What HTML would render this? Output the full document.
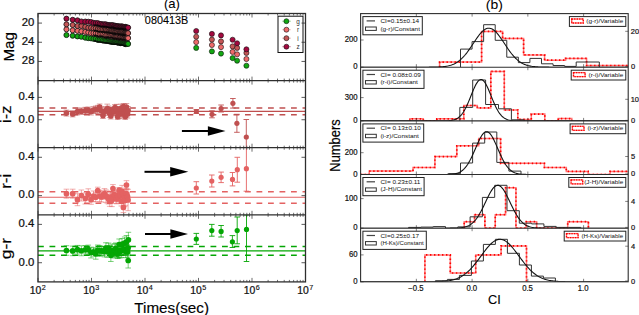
<!DOCTYPE html><html><head><meta charset="utf-8"><style>html,body{margin:0;padding:0;background:#fff;width:639px;height:315px;overflow:hidden}svg{display:block}text{font-family:"Liberation Sans",sans-serif}</style></head><body>
<svg width="639" height="315" viewBox="0 0 639 315">
<rect width="639" height="315" fill="#fff"/>
<defs>
<clipPath id="ca0"><rect x="38.0" y="13.5" width="267.5" height="67.1"/></clipPath>
<clipPath id="ca1"><rect x="38.0" y="80.6" width="267.5" height="67.1"/></clipPath>
<clipPath id="ca2"><rect x="38.0" y="147.7" width="267.5" height="67.10000000000002"/></clipPath>
<clipPath id="ca3"><rect x="38.0" y="214.8" width="267.5" height="67.09999999999997"/></clipPath>
</defs>
<g clip-path="url(#ca0)">
<circle cx="66.43" cy="35.05" r="2.55" fill="#12a812" stroke="#111" stroke-width="0.8"/>
<circle cx="72.69" cy="35.72" r="2.55" fill="#12a812" stroke="#111" stroke-width="0.8"/>
<circle cx="77.48" cy="36.4" r="2.55" fill="#12a812" stroke="#111" stroke-width="0.8"/>
<circle cx="81.38" cy="36.72" r="2.55" fill="#12a812" stroke="#111" stroke-width="0.8"/>
<circle cx="85.31" cy="37.64" r="2.55" fill="#12a812" stroke="#111" stroke-width="0.8"/>
<circle cx="88.29" cy="38.14" r="2.55" fill="#12a812" stroke="#111" stroke-width="0.8"/>
<circle cx="91.03" cy="38.38" r="2.55" fill="#12a812" stroke="#111" stroke-width="0.8"/>
<circle cx="93.5" cy="38.77" r="2.55" fill="#12a812" stroke="#111" stroke-width="0.8"/>
<circle cx="95.74" cy="38.85" r="2.55" fill="#12a812" stroke="#111" stroke-width="0.8"/>
<circle cx="97.77" cy="39.74" r="2.55" fill="#12a812" stroke="#111" stroke-width="0.8"/>
<circle cx="99.65" cy="39.81" r="2.55" fill="#12a812" stroke="#111" stroke-width="0.8"/>
<circle cx="101.38" cy="39.92" r="2.55" fill="#12a812" stroke="#111" stroke-width="0.8"/>
<circle cx="102.99" cy="40.36" r="2.55" fill="#12a812" stroke="#111" stroke-width="0.8"/>
<circle cx="104.5" cy="40.53" r="2.55" fill="#12a812" stroke="#111" stroke-width="0.8"/>
<circle cx="105.92" cy="40.69" r="2.55" fill="#12a812" stroke="#111" stroke-width="0.8"/>
<circle cx="107.25" cy="40.82" r="2.55" fill="#12a812" stroke="#111" stroke-width="0.8"/>
<circle cx="108.52" cy="41.06" r="2.55" fill="#12a812" stroke="#111" stroke-width="0.8"/>
<circle cx="109.71" cy="41.32" r="2.55" fill="#12a812" stroke="#111" stroke-width="0.8"/>
<circle cx="110.85" cy="41.56" r="2.55" fill="#12a812" stroke="#111" stroke-width="0.8"/>
<circle cx="111.94" cy="41.73" r="2.55" fill="#12a812" stroke="#111" stroke-width="0.8"/>
<circle cx="112.97" cy="41.79" r="2.55" fill="#12a812" stroke="#111" stroke-width="0.8"/>
<circle cx="113.97" cy="42.04" r="2.55" fill="#12a812" stroke="#111" stroke-width="0.8"/>
<circle cx="114.92" cy="41.96" r="2.55" fill="#12a812" stroke="#111" stroke-width="0.8"/>
<circle cx="115.83" cy="41.81" r="2.55" fill="#12a812" stroke="#111" stroke-width="0.8"/>
<circle cx="116.71" cy="41.96" r="2.55" fill="#12a812" stroke="#111" stroke-width="0.8"/>
<circle cx="117.56" cy="42.56" r="2.55" fill="#12a812" stroke="#111" stroke-width="0.8"/>
<circle cx="118.38" cy="42.17" r="2.55" fill="#12a812" stroke="#111" stroke-width="0.8"/>
<circle cx="119.17" cy="42.46" r="2.55" fill="#12a812" stroke="#111" stroke-width="0.8"/>
<circle cx="119.93" cy="42.74" r="2.55" fill="#12a812" stroke="#111" stroke-width="0.8"/>
<circle cx="120.67" cy="43.04" r="2.55" fill="#12a812" stroke="#111" stroke-width="0.8"/>
<circle cx="121.39" cy="42.53" r="2.55" fill="#12a812" stroke="#111" stroke-width="0.8"/>
<circle cx="122.09" cy="42.82" r="2.55" fill="#12a812" stroke="#111" stroke-width="0.8"/>
<circle cx="122.76" cy="42.99" r="2.55" fill="#12a812" stroke="#111" stroke-width="0.8"/>
<circle cx="123.42" cy="43.1" r="2.55" fill="#12a812" stroke="#111" stroke-width="0.8"/>
<circle cx="124.06" cy="43.34" r="2.55" fill="#12a812" stroke="#111" stroke-width="0.8"/>
<circle cx="124.68" cy="43.6" r="2.55" fill="#12a812" stroke="#111" stroke-width="0.8"/>
<circle cx="125.28" cy="43.65" r="2.55" fill="#12a812" stroke="#111" stroke-width="0.8"/>
<circle cx="125.87" cy="44.19" r="2.55" fill="#12a812" stroke="#111" stroke-width="0.8"/>
<circle cx="126.45" cy="44.02" r="2.55" fill="#12a812" stroke="#111" stroke-width="0.8"/>
<circle cx="127.01" cy="43.5" r="2.55" fill="#12a812" stroke="#111" stroke-width="0.8"/>
<circle cx="127.56" cy="43.55" r="2.55" fill="#12a812" stroke="#111" stroke-width="0.8"/>
<circle cx="128.09" cy="43.89" r="2.55" fill="#12a812" stroke="#111" stroke-width="0.8"/>
<path d="M93.5 40.97 L95.74 41.05 L97.77 41.94 L99.65 42.01 L101.38 42.12 L102.99 42.56 L104.5 42.73 L105.92 42.89 L107.25 43.02 L108.52 43.26 L109.71 43.52 L110.85 43.76 L111.94 43.93 L112.97 43.99 L113.97 44.24 L114.92 44.16 L115.83 44.01 L116.71 44.16 L117.56 44.76 L118.38 44.37 L119.17 44.66 L119.93 44.94 L120.67 45.24 L121.39 44.73 L122.09 45.02 L122.76 45.19 L123.42 45.3 L124.06 45.54 L124.68 45.8 L125.28 45.85 L125.87 46.39" fill="none" stroke="#000" stroke-width="1.7" opacity="0.75"/>
<circle cx="196.2" cy="47.9" r="2.55" fill="#12a812" stroke="#111" stroke-width="0.6"/>
<circle cx="211.9" cy="51.4" r="2.55" fill="#12a812" stroke="#111" stroke-width="0.6"/>
<circle cx="221" cy="53.6" r="2.55" fill="#12a812" stroke="#111" stroke-width="0.6"/>
<circle cx="232.6" cy="58.1" r="2.55" fill="#12a812" stroke="#111" stroke-width="0.6"/>
<circle cx="237.1" cy="60.7" r="2.55" fill="#12a812" stroke="#111" stroke-width="0.6"/>
<circle cx="246.4" cy="65.7" r="2.55" fill="#12a812" stroke="#111" stroke-width="0.6"/>
<circle cx="66.43" cy="29.32" r="2.55" fill="#ee6a6a" stroke="#111" stroke-width="0.8"/>
<circle cx="72.69" cy="30.3" r="2.55" fill="#ee6a6a" stroke="#111" stroke-width="0.8"/>
<circle cx="77.48" cy="30.82" r="2.55" fill="#ee6a6a" stroke="#111" stroke-width="0.8"/>
<circle cx="81.38" cy="31.33" r="2.55" fill="#ee6a6a" stroke="#111" stroke-width="0.8"/>
<circle cx="85.31" cy="31.94" r="2.55" fill="#ee6a6a" stroke="#111" stroke-width="0.8"/>
<circle cx="88.29" cy="32.37" r="2.55" fill="#ee6a6a" stroke="#111" stroke-width="0.8"/>
<circle cx="91.03" cy="33.14" r="2.55" fill="#ee6a6a" stroke="#111" stroke-width="0.8"/>
<circle cx="93.5" cy="33.16" r="2.55" fill="#ee6a6a" stroke="#111" stroke-width="0.8"/>
<circle cx="95.74" cy="33.5" r="2.55" fill="#ee6a6a" stroke="#111" stroke-width="0.8"/>
<circle cx="97.77" cy="33.88" r="2.55" fill="#ee6a6a" stroke="#111" stroke-width="0.8"/>
<circle cx="99.65" cy="34.3" r="2.55" fill="#ee6a6a" stroke="#111" stroke-width="0.8"/>
<circle cx="101.38" cy="33.96" r="2.55" fill="#ee6a6a" stroke="#111" stroke-width="0.8"/>
<circle cx="102.99" cy="34.51" r="2.55" fill="#ee6a6a" stroke="#111" stroke-width="0.8"/>
<circle cx="104.5" cy="34.85" r="2.55" fill="#ee6a6a" stroke="#111" stroke-width="0.8"/>
<circle cx="105.92" cy="35.4" r="2.55" fill="#ee6a6a" stroke="#111" stroke-width="0.8"/>
<circle cx="107.25" cy="35.11" r="2.55" fill="#ee6a6a" stroke="#111" stroke-width="0.8"/>
<circle cx="108.52" cy="35.25" r="2.55" fill="#ee6a6a" stroke="#111" stroke-width="0.8"/>
<circle cx="109.71" cy="35.54" r="2.55" fill="#ee6a6a" stroke="#111" stroke-width="0.8"/>
<circle cx="110.85" cy="35.69" r="2.55" fill="#ee6a6a" stroke="#111" stroke-width="0.8"/>
<circle cx="111.94" cy="35.31" r="2.55" fill="#ee6a6a" stroke="#111" stroke-width="0.8"/>
<circle cx="112.97" cy="35.93" r="2.55" fill="#ee6a6a" stroke="#111" stroke-width="0.8"/>
<circle cx="113.97" cy="36.31" r="2.55" fill="#ee6a6a" stroke="#111" stroke-width="0.8"/>
<circle cx="114.92" cy="36.49" r="2.55" fill="#ee6a6a" stroke="#111" stroke-width="0.8"/>
<circle cx="115.83" cy="36.15" r="2.55" fill="#ee6a6a" stroke="#111" stroke-width="0.8"/>
<circle cx="116.71" cy="36.77" r="2.55" fill="#ee6a6a" stroke="#111" stroke-width="0.8"/>
<circle cx="117.56" cy="36.51" r="2.55" fill="#ee6a6a" stroke="#111" stroke-width="0.8"/>
<circle cx="118.38" cy="36.82" r="2.55" fill="#ee6a6a" stroke="#111" stroke-width="0.8"/>
<circle cx="119.17" cy="37.36" r="2.55" fill="#ee6a6a" stroke="#111" stroke-width="0.8"/>
<circle cx="119.93" cy="37.13" r="2.55" fill="#ee6a6a" stroke="#111" stroke-width="0.8"/>
<circle cx="120.67" cy="36.72" r="2.55" fill="#ee6a6a" stroke="#111" stroke-width="0.8"/>
<circle cx="121.39" cy="37.11" r="2.55" fill="#ee6a6a" stroke="#111" stroke-width="0.8"/>
<circle cx="122.09" cy="37.44" r="2.55" fill="#ee6a6a" stroke="#111" stroke-width="0.8"/>
<circle cx="122.76" cy="37.84" r="2.55" fill="#ee6a6a" stroke="#111" stroke-width="0.8"/>
<circle cx="123.42" cy="37.41" r="2.55" fill="#ee6a6a" stroke="#111" stroke-width="0.8"/>
<circle cx="124.06" cy="37.64" r="2.55" fill="#ee6a6a" stroke="#111" stroke-width="0.8"/>
<circle cx="124.68" cy="37.71" r="2.55" fill="#ee6a6a" stroke="#111" stroke-width="0.8"/>
<circle cx="125.28" cy="37.95" r="2.55" fill="#ee6a6a" stroke="#111" stroke-width="0.8"/>
<circle cx="125.87" cy="38.05" r="2.55" fill="#ee6a6a" stroke="#111" stroke-width="0.8"/>
<circle cx="126.45" cy="37.92" r="2.55" fill="#ee6a6a" stroke="#111" stroke-width="0.8"/>
<circle cx="127.01" cy="38.12" r="2.55" fill="#ee6a6a" stroke="#111" stroke-width="0.8"/>
<circle cx="127.56" cy="37.57" r="2.55" fill="#ee6a6a" stroke="#111" stroke-width="0.8"/>
<circle cx="128.09" cy="38.09" r="2.55" fill="#ee6a6a" stroke="#111" stroke-width="0.8"/>
<path d="M93.5 35.36 L95.74 35.7 L97.77 36.08 L99.65 36.5 L101.38 36.16 L102.99 36.71 L104.5 37.05 L105.92 37.6 L107.25 37.31 L108.52 37.45 L109.71 37.74 L110.85 37.89 L111.94 37.51 L112.97 38.13 L113.97 38.51 L114.92 38.69 L115.83 38.35 L116.71 38.97 L117.56 38.71 L118.38 39.02 L119.17 39.56 L119.93 39.33 L120.67 38.92 L121.39 39.31 L122.09 39.64 L122.76 40.04 L123.42 39.61 L124.06 39.84 L124.68 39.91 L125.28 40.15 L125.87 40.25" fill="none" stroke="#000" stroke-width="1.7" opacity="0.75"/>
<circle cx="196.2" cy="42.1" r="2.55" fill="#ee6a6a" stroke="#111" stroke-width="0.6"/>
<circle cx="211.9" cy="45" r="2.55" fill="#ee6a6a" stroke="#111" stroke-width="0.6"/>
<circle cx="221" cy="47.1" r="2.55" fill="#ee6a6a" stroke="#111" stroke-width="0.6"/>
<circle cx="232.6" cy="51.9" r="2.55" fill="#ee6a6a" stroke="#111" stroke-width="0.6"/>
<circle cx="237.1" cy="54.3" r="2.55" fill="#ee6a6a" stroke="#111" stroke-width="0.6"/>
<circle cx="246.4" cy="59" r="2.55" fill="#ee6a6a" stroke="#111" stroke-width="0.6"/>
<circle cx="66.43" cy="24.32" r="2.55" fill="#c45656" stroke="#111" stroke-width="0.8"/>
<circle cx="72.69" cy="25" r="2.55" fill="#c45656" stroke="#111" stroke-width="0.8"/>
<circle cx="77.48" cy="25.97" r="2.55" fill="#c45656" stroke="#111" stroke-width="0.8"/>
<circle cx="81.38" cy="25.95" r="2.55" fill="#c45656" stroke="#111" stroke-width="0.8"/>
<circle cx="85.31" cy="26.88" r="2.55" fill="#c45656" stroke="#111" stroke-width="0.8"/>
<circle cx="88.29" cy="27.77" r="2.55" fill="#c45656" stroke="#111" stroke-width="0.8"/>
<circle cx="91.03" cy="27.81" r="2.55" fill="#c45656" stroke="#111" stroke-width="0.8"/>
<circle cx="93.5" cy="28.34" r="2.55" fill="#c45656" stroke="#111" stroke-width="0.8"/>
<circle cx="95.74" cy="28.38" r="2.55" fill="#c45656" stroke="#111" stroke-width="0.8"/>
<circle cx="97.77" cy="29.15" r="2.55" fill="#c45656" stroke="#111" stroke-width="0.8"/>
<circle cx="99.65" cy="29.33" r="2.55" fill="#c45656" stroke="#111" stroke-width="0.8"/>
<circle cx="101.38" cy="29.65" r="2.55" fill="#c45656" stroke="#111" stroke-width="0.8"/>
<circle cx="102.99" cy="29.59" r="2.55" fill="#c45656" stroke="#111" stroke-width="0.8"/>
<circle cx="104.5" cy="29.98" r="2.55" fill="#c45656" stroke="#111" stroke-width="0.8"/>
<circle cx="105.92" cy="29.92" r="2.55" fill="#c45656" stroke="#111" stroke-width="0.8"/>
<circle cx="107.25" cy="30.38" r="2.55" fill="#c45656" stroke="#111" stroke-width="0.8"/>
<circle cx="108.52" cy="30.08" r="2.55" fill="#c45656" stroke="#111" stroke-width="0.8"/>
<circle cx="109.71" cy="30.76" r="2.55" fill="#c45656" stroke="#111" stroke-width="0.8"/>
<circle cx="110.85" cy="30.96" r="2.55" fill="#c45656" stroke="#111" stroke-width="0.8"/>
<circle cx="111.94" cy="30.93" r="2.55" fill="#c45656" stroke="#111" stroke-width="0.8"/>
<circle cx="112.97" cy="31.43" r="2.55" fill="#c45656" stroke="#111" stroke-width="0.8"/>
<circle cx="113.97" cy="31.28" r="2.55" fill="#c45656" stroke="#111" stroke-width="0.8"/>
<circle cx="114.92" cy="31.8" r="2.55" fill="#c45656" stroke="#111" stroke-width="0.8"/>
<circle cx="115.83" cy="31.49" r="2.55" fill="#c45656" stroke="#111" stroke-width="0.8"/>
<circle cx="116.71" cy="31.56" r="2.55" fill="#c45656" stroke="#111" stroke-width="0.8"/>
<circle cx="117.56" cy="31.81" r="2.55" fill="#c45656" stroke="#111" stroke-width="0.8"/>
<circle cx="118.38" cy="32.64" r="2.55" fill="#c45656" stroke="#111" stroke-width="0.8"/>
<circle cx="119.17" cy="31.76" r="2.55" fill="#c45656" stroke="#111" stroke-width="0.8"/>
<circle cx="119.93" cy="32.12" r="2.55" fill="#c45656" stroke="#111" stroke-width="0.8"/>
<circle cx="120.67" cy="32.23" r="2.55" fill="#c45656" stroke="#111" stroke-width="0.8"/>
<circle cx="121.39" cy="32.56" r="2.55" fill="#c45656" stroke="#111" stroke-width="0.8"/>
<circle cx="122.09" cy="32.21" r="2.55" fill="#c45656" stroke="#111" stroke-width="0.8"/>
<circle cx="122.76" cy="33.01" r="2.55" fill="#c45656" stroke="#111" stroke-width="0.8"/>
<circle cx="123.42" cy="32.34" r="2.55" fill="#c45656" stroke="#111" stroke-width="0.8"/>
<circle cx="124.06" cy="33.13" r="2.55" fill="#c45656" stroke="#111" stroke-width="0.8"/>
<circle cx="124.68" cy="32.85" r="2.55" fill="#c45656" stroke="#111" stroke-width="0.8"/>
<circle cx="125.28" cy="32.8" r="2.55" fill="#c45656" stroke="#111" stroke-width="0.8"/>
<circle cx="125.87" cy="33.23" r="2.55" fill="#c45656" stroke="#111" stroke-width="0.8"/>
<circle cx="126.45" cy="32.83" r="2.55" fill="#c45656" stroke="#111" stroke-width="0.8"/>
<circle cx="127.01" cy="33.24" r="2.55" fill="#c45656" stroke="#111" stroke-width="0.8"/>
<circle cx="127.56" cy="33.07" r="2.55" fill="#c45656" stroke="#111" stroke-width="0.8"/>
<circle cx="128.09" cy="33.15" r="2.55" fill="#c45656" stroke="#111" stroke-width="0.8"/>
<path d="M93.5 30.54 L95.74 30.58 L97.77 31.35 L99.65 31.53 L101.38 31.85 L102.99 31.79 L104.5 32.18 L105.92 32.12 L107.25 32.58 L108.52 32.28 L109.71 32.96 L110.85 33.16 L111.94 33.13 L112.97 33.63 L113.97 33.48 L114.92 34 L115.83 33.69 L116.71 33.76 L117.56 34.01 L118.38 34.84 L119.17 33.96 L119.93 34.32 L120.67 34.43 L121.39 34.76 L122.09 34.41 L122.76 35.21 L123.42 34.54 L124.06 35.33 L124.68 35.05 L125.28 35 L125.87 35.43" fill="none" stroke="#000" stroke-width="1.7" opacity="0.75"/>
<circle cx="196.2" cy="36.7" r="2.55" fill="#c45656" stroke="#111" stroke-width="0.6"/>
<circle cx="211.9" cy="39.6" r="2.55" fill="#c45656" stroke="#111" stroke-width="0.6"/>
<circle cx="221" cy="41.4" r="2.55" fill="#c45656" stroke="#111" stroke-width="0.6"/>
<circle cx="232.6" cy="46.4" r="2.55" fill="#c45656" stroke="#111" stroke-width="0.6"/>
<circle cx="237.1" cy="47.9" r="2.55" fill="#c45656" stroke="#111" stroke-width="0.6"/>
<circle cx="246.4" cy="52.9" r="2.55" fill="#c45656" stroke="#111" stroke-width="0.6"/>
<circle cx="66.43" cy="18.65" r="2.55" fill="#a3093f" stroke="#111" stroke-width="0.8"/>
<circle cx="72.69" cy="19.8" r="2.55" fill="#a3093f" stroke="#111" stroke-width="0.8"/>
<circle cx="77.48" cy="20.35" r="2.55" fill="#a3093f" stroke="#111" stroke-width="0.8"/>
<circle cx="81.38" cy="21.5" r="2.55" fill="#a3093f" stroke="#111" stroke-width="0.8"/>
<circle cx="85.31" cy="21.58" r="2.55" fill="#a3093f" stroke="#111" stroke-width="0.8"/>
<circle cx="88.29" cy="21.71" r="2.55" fill="#a3093f" stroke="#111" stroke-width="0.8"/>
<circle cx="91.03" cy="22.07" r="2.55" fill="#a3093f" stroke="#111" stroke-width="0.8"/>
<circle cx="93.5" cy="22.89" r="2.55" fill="#a3093f" stroke="#111" stroke-width="0.8"/>
<circle cx="95.74" cy="23.09" r="2.55" fill="#a3093f" stroke="#111" stroke-width="0.8"/>
<circle cx="97.77" cy="23.14" r="2.55" fill="#a3093f" stroke="#111" stroke-width="0.8"/>
<circle cx="99.65" cy="23.85" r="2.55" fill="#a3093f" stroke="#111" stroke-width="0.8"/>
<circle cx="101.38" cy="24.06" r="2.55" fill="#a3093f" stroke="#111" stroke-width="0.8"/>
<circle cx="102.99" cy="24.41" r="2.55" fill="#a3093f" stroke="#111" stroke-width="0.8"/>
<circle cx="104.5" cy="24.33" r="2.55" fill="#a3093f" stroke="#111" stroke-width="0.8"/>
<circle cx="105.92" cy="24.37" r="2.55" fill="#a3093f" stroke="#111" stroke-width="0.8"/>
<circle cx="107.25" cy="24.96" r="2.55" fill="#a3093f" stroke="#111" stroke-width="0.8"/>
<circle cx="108.52" cy="25.06" r="2.55" fill="#a3093f" stroke="#111" stroke-width="0.8"/>
<circle cx="109.71" cy="25.26" r="2.55" fill="#a3093f" stroke="#111" stroke-width="0.8"/>
<circle cx="110.85" cy="25.32" r="2.55" fill="#a3093f" stroke="#111" stroke-width="0.8"/>
<circle cx="111.94" cy="25.22" r="2.55" fill="#a3093f" stroke="#111" stroke-width="0.8"/>
<circle cx="112.97" cy="25.18" r="2.55" fill="#a3093f" stroke="#111" stroke-width="0.8"/>
<circle cx="113.97" cy="26.08" r="2.55" fill="#a3093f" stroke="#111" stroke-width="0.8"/>
<circle cx="114.92" cy="25.65" r="2.55" fill="#a3093f" stroke="#111" stroke-width="0.8"/>
<circle cx="115.83" cy="25.97" r="2.55" fill="#a3093f" stroke="#111" stroke-width="0.8"/>
<circle cx="116.71" cy="26.36" r="2.55" fill="#a3093f" stroke="#111" stroke-width="0.8"/>
<circle cx="117.56" cy="26.38" r="2.55" fill="#a3093f" stroke="#111" stroke-width="0.8"/>
<circle cx="118.38" cy="26.2" r="2.55" fill="#a3093f" stroke="#111" stroke-width="0.8"/>
<circle cx="119.17" cy="26.48" r="2.55" fill="#a3093f" stroke="#111" stroke-width="0.8"/>
<circle cx="119.93" cy="26.84" r="2.55" fill="#a3093f" stroke="#111" stroke-width="0.8"/>
<circle cx="120.67" cy="26.57" r="2.55" fill="#a3093f" stroke="#111" stroke-width="0.8"/>
<circle cx="121.39" cy="26.41" r="2.55" fill="#a3093f" stroke="#111" stroke-width="0.8"/>
<circle cx="122.09" cy="26.79" r="2.55" fill="#a3093f" stroke="#111" stroke-width="0.8"/>
<circle cx="122.76" cy="26.55" r="2.55" fill="#a3093f" stroke="#111" stroke-width="0.8"/>
<circle cx="123.42" cy="27.42" r="2.55" fill="#a3093f" stroke="#111" stroke-width="0.8"/>
<circle cx="124.06" cy="27.1" r="2.55" fill="#a3093f" stroke="#111" stroke-width="0.8"/>
<circle cx="124.68" cy="27.08" r="2.55" fill="#a3093f" stroke="#111" stroke-width="0.8"/>
<circle cx="125.28" cy="26.85" r="2.55" fill="#a3093f" stroke="#111" stroke-width="0.8"/>
<circle cx="125.87" cy="27.58" r="2.55" fill="#a3093f" stroke="#111" stroke-width="0.8"/>
<circle cx="126.45" cy="27.49" r="2.55" fill="#a3093f" stroke="#111" stroke-width="0.8"/>
<circle cx="127.01" cy="27.58" r="2.55" fill="#a3093f" stroke="#111" stroke-width="0.8"/>
<circle cx="127.56" cy="27.8" r="2.55" fill="#a3093f" stroke="#111" stroke-width="0.8"/>
<circle cx="128.09" cy="27.59" r="2.55" fill="#a3093f" stroke="#111" stroke-width="0.8"/>
<path d="M93.5 25.09 L95.74 25.29 L97.77 25.34 L99.65 26.05 L101.38 26.26 L102.99 26.61 L104.5 26.53 L105.92 26.57 L107.25 27.16 L108.52 27.26 L109.71 27.46 L110.85 27.52 L111.94 27.42 L112.97 27.38 L113.97 28.28 L114.92 27.85 L115.83 28.17 L116.71 28.56 L117.56 28.58 L118.38 28.4 L119.17 28.68 L119.93 29.04 L120.67 28.77 L121.39 28.61 L122.09 28.99 L122.76 28.75 L123.42 29.62 L124.06 29.3 L124.68 29.28 L125.28 29.05 L125.87 29.78" fill="none" stroke="#000" stroke-width="1.7" opacity="0.75"/>
<circle cx="196.2" cy="31" r="2.55" fill="#a3093f" stroke="#111" stroke-width="0.6"/>
<circle cx="211.9" cy="33.9" r="2.55" fill="#a3093f" stroke="#111" stroke-width="0.6"/>
<circle cx="221" cy="35.4" r="2.55" fill="#a3093f" stroke="#111" stroke-width="0.6"/>
<circle cx="232.6" cy="39.7" r="2.55" fill="#a3093f" stroke="#111" stroke-width="0.6"/>
<circle cx="237.1" cy="43.3" r="2.55" fill="#a3093f" stroke="#111" stroke-width="0.6"/>
<circle cx="246.4" cy="49.3" r="2.55" fill="#a3093f" stroke="#111" stroke-width="0.6"/>
</g>
<rect x="278" y="16.2" width="25" height="36.3" fill="#fff" stroke="#111" stroke-width="1"/>
<line x1="282" y1="21.2" x2="291" y2="21.2" stroke="#12a812" stroke-width="0.7" opacity="0.5"/>
<circle cx="286.4" cy="21.2" r="2.5" fill="#12a812" stroke="#111" stroke-width="0.6"/>
<text x="298" y="23.6" font-size="6.4" text-anchor="middle" fill="#333" >g</text>
<line x1="282" y1="29.7" x2="291" y2="29.7" stroke="#ee6a6a" stroke-width="0.7" opacity="0.5"/>
<circle cx="286.4" cy="29.7" r="2.5" fill="#ee6a6a" stroke="#111" stroke-width="0.6"/>
<text x="298" y="32.1" font-size="6.4" text-anchor="middle" fill="#333" >r</text>
<line x1="282" y1="38.2" x2="291" y2="38.2" stroke="#c45656" stroke-width="0.7" opacity="0.5"/>
<circle cx="286.4" cy="38.2" r="2.5" fill="#c45656" stroke="#111" stroke-width="0.6"/>
<text x="298" y="40.6" font-size="6.4" text-anchor="middle" fill="#333" >i</text>
<line x1="282" y1="46.7" x2="291" y2="46.7" stroke="#a3093f" stroke-width="0.7" opacity="0.5"/>
<circle cx="286.4" cy="46.7" r="2.5" fill="#a3093f" stroke="#111" stroke-width="0.6"/>
<text x="298" y="49.1" font-size="6.4" text-anchor="middle" fill="#333" >z</text>
<text transform="translate(144.87 23.59) scale(0.9999 1)" font-size="10.845" fill="#000" stroke="#000" stroke-width="0.12">080413B</text>
<g clip-path="url(#ca1)">
<line x1="38" y1="111.4" x2="305.5" y2="111.4" stroke="#c05050" stroke-width="1.1" />
<line x1="38" y1="108" x2="305.5" y2="108" stroke="#c05050" stroke-width="1.5" stroke-dasharray="5.8 5.7"/>
<line x1="38" y1="114.8" x2="305.5" y2="114.8" stroke="#c05050" stroke-width="1.5" stroke-dasharray="5.8 5.7"/>
<path d="M66.43 110.1V116.1M63.63 110.1H69.23M63.63 116.1H69.23" stroke="#c05050" stroke-width="0.7" fill="none" opacity="0.75"/>
<path d="M72.69 110.9V116.9M69.89 110.9H75.49M69.89 116.9H75.49" stroke="#c05050" stroke-width="0.7" fill="none" opacity="0.75"/>
<path d="M77.48 108.3V114.9M74.68 108.3H80.28M74.68 114.9H80.28" stroke="#c05050" stroke-width="0.7" fill="none" opacity="0.75"/>
<path d="M81.38 107.9V114.5M78.58 107.9H84.18M78.58 114.5H84.18" stroke="#c05050" stroke-width="0.7" fill="none" opacity="0.75"/>
<path d="M85.31 107.3V114.3M82.51 107.3H88.11M82.51 114.3H88.11" stroke="#c05050" stroke-width="0.7" fill="none" opacity="0.75"/>
<path d="M88.29 107V114M85.49 107H91.09M85.49 114H91.09" stroke="#c05050" stroke-width="0.7" fill="none" opacity="0.75"/>
<path d="M91.03 108V115M88.23 108H93.83M88.23 115H93.83" stroke="#c05050" stroke-width="0.7" fill="none" opacity="0.75"/>
<path d="M93.5 106.5V113.5M90.7 106.5H96.3M90.7 113.5H96.3" stroke="#c05050" stroke-width="0.7" fill="none" opacity="0.75"/>
<path d="M95.74 106V113M92.94 106H98.54M92.94 113H98.54" stroke="#c05050" stroke-width="0.7" fill="none" opacity="0.75"/>
<path d="M97.77 105.38V113.5M94.97 105.38H100.57M94.97 113.5H100.57" stroke="#c05050" stroke-width="0.7" fill="none" opacity="0.75"/>
<path d="M99.65 104V110M96.85 104H102.45M96.85 110H102.45" stroke="#c05050" stroke-width="0.7" fill="none" opacity="0.75"/>
<path d="M101.38 106.84V114.72M98.58 106.84H104.18M98.58 114.72H104.18" stroke="#c05050" stroke-width="0.7" fill="none" opacity="0.75"/>
<path d="M102.99 112.5V118.5M100.19 112.5H105.79M100.19 118.5H105.79" stroke="#c05050" stroke-width="0.7" fill="none" opacity="0.75"/>
<path d="M104.5 107.64V115.31M101.7 107.64H107.3M101.7 115.31H107.3" stroke="#c05050" stroke-width="0.7" fill="none" opacity="0.75"/>
<path d="M105.92 106.47V114.98M103.12 106.47H108.72M103.12 114.98H108.72" stroke="#c05050" stroke-width="0.7" fill="none" opacity="0.75"/>
<path d="M107.25 104.13V113.37M104.45 104.13H110.05M104.45 113.37H110.05" stroke="#c05050" stroke-width="0.7" fill="none" opacity="0.75"/>
<path d="M108.52 106V112M105.72 106H111.32M105.72 112H111.32" stroke="#c05050" stroke-width="0.7" fill="none" opacity="0.75"/>
<path d="M109.71 107.93V117.37M106.91 107.93H112.51M106.91 117.37H112.51" stroke="#c05050" stroke-width="0.7" fill="none" opacity="0.75"/>
<path d="M110.85 113V119M108.05 113H113.65M108.05 119H113.65" stroke="#c05050" stroke-width="0.7" fill="none" opacity="0.75"/>
<path d="M111.94 107.27V114.5M109.14 107.27H114.74M109.14 114.5H114.74" stroke="#c05050" stroke-width="0.7" fill="none" opacity="0.75"/>
<path d="M112.97 108.5V115.5M110.17 108.5H115.77M110.17 115.5H115.77" stroke="#c05050" stroke-width="0.7" fill="none" opacity="0.75"/>
<path d="M113.97 107.21V114.81M111.17 107.21H116.77M111.17 114.81H116.77" stroke="#c05050" stroke-width="0.7" fill="none" opacity="0.75"/>
<path d="M114.92 104.5V110.5M112.12 104.5H117.72M112.12 110.5H117.72" stroke="#c05050" stroke-width="0.7" fill="none" opacity="0.75"/>
<path d="M115.83 106.96V115.6M113.03 106.96H118.63M113.03 115.6H118.63" stroke="#c05050" stroke-width="0.7" fill="none" opacity="0.75"/>
<path d="M116.71 104.32V113.33M113.91 104.32H119.51M113.91 113.33H119.51" stroke="#c05050" stroke-width="0.7" fill="none" opacity="0.75"/>
<path d="M117.56 113.5V119.5M114.76 113.5H120.36M114.76 119.5H120.36" stroke="#c05050" stroke-width="0.7" fill="none" opacity="0.75"/>
<path d="M118.38 109.45V118.52M115.58 109.45H121.18M115.58 118.52H121.18" stroke="#c05050" stroke-width="0.7" fill="none" opacity="0.75"/>
<path d="M119.17 106.5V113.5M116.37 106.5H121.97M116.37 113.5H121.97" stroke="#c05050" stroke-width="0.7" fill="none" opacity="0.75"/>
<path d="M119.93 108.72V118.68M117.13 108.72H122.73M117.13 118.68H122.73" stroke="#c05050" stroke-width="0.7" fill="none" opacity="0.75"/>
<path d="M120.67 104.19V113.04M117.87 104.19H123.47M117.87 113.04H123.47" stroke="#c05050" stroke-width="0.7" fill="none" opacity="0.75"/>
<path d="M121.39 109V117M118.59 109H124.19M118.59 117H124.19" stroke="#c05050" stroke-width="0.7" fill="none" opacity="0.75"/>
<path d="M122.09 106V114.94M119.29 106H124.89M119.29 114.94H124.89" stroke="#c05050" stroke-width="0.7" fill="none" opacity="0.75"/>
<path d="M122.76 106.34V116.3M119.96 106.34H125.56M119.96 116.3H125.56" stroke="#c05050" stroke-width="0.7" fill="none" opacity="0.75"/>
<path d="M123.42 103.5V109.5M120.62 103.5H126.22M120.62 109.5H126.22" stroke="#c05050" stroke-width="0.7" fill="none" opacity="0.75"/>
<path d="M124.06 109.42V117.9M121.26 109.42H126.86M121.26 117.9H126.86" stroke="#c05050" stroke-width="0.7" fill="none" opacity="0.75"/>
<path d="M124.68 109.04V116.63M121.88 109.04H127.48M121.88 116.63H127.48" stroke="#c05050" stroke-width="0.7" fill="none" opacity="0.75"/>
<path d="M125.28 113.5V119.5M122.48 113.5H128.08M122.48 119.5H128.08" stroke="#c05050" stroke-width="0.7" fill="none" opacity="0.75"/>
<path d="M125.87 110.26V117.53M123.07 110.26H128.67M123.07 117.53H128.67" stroke="#c05050" stroke-width="0.7" fill="none" opacity="0.75"/>
<path d="M126.45 103.5V110.5M123.65 103.5H129.25M123.65 110.5H129.25" stroke="#c05050" stroke-width="0.7" fill="none" opacity="0.75"/>
<path d="M127.01 107.02V115.36M124.21 107.02H129.81M124.21 115.36H129.81" stroke="#c05050" stroke-width="0.7" fill="none" opacity="0.75"/>
<path d="M127.56 110V118M124.76 110H130.36M124.76 118H130.36" stroke="#c05050" stroke-width="0.7" fill="none" opacity="0.75"/>
<path d="M128.09 106.5V114.5M125.29 106.5H130.89M125.29 114.5H130.89" stroke="#c05050" stroke-width="0.7" fill="none" opacity="0.75"/>
<circle cx="66.43" cy="113.1" r="2.85" fill="#c05050"/>
<circle cx="72.69" cy="113.9" r="2.85" fill="#c05050"/>
<circle cx="77.48" cy="111.6" r="2.85" fill="#c05050"/>
<circle cx="81.38" cy="111.2" r="2.85" fill="#c05050"/>
<circle cx="85.31" cy="110.8" r="2.85" fill="#c05050"/>
<circle cx="88.29" cy="110.5" r="2.85" fill="#c05050"/>
<circle cx="91.03" cy="111.5" r="2.85" fill="#c05050"/>
<circle cx="93.5" cy="110" r="2.85" fill="#c05050"/>
<circle cx="95.74" cy="109.5" r="2.85" fill="#c05050"/>
<circle cx="97.77" cy="109.44" r="2.85" fill="#c05050"/>
<circle cx="99.65" cy="107" r="2.85" fill="#c05050"/>
<circle cx="101.38" cy="110.78" r="2.85" fill="#c05050"/>
<circle cx="102.99" cy="115.5" r="2.85" fill="#c05050"/>
<circle cx="104.5" cy="111.47" r="2.85" fill="#c05050"/>
<circle cx="105.92" cy="110.73" r="2.85" fill="#c05050"/>
<circle cx="107.25" cy="108.75" r="2.85" fill="#c05050"/>
<circle cx="108.52" cy="109" r="2.85" fill="#c05050"/>
<circle cx="109.71" cy="112.65" r="2.85" fill="#c05050"/>
<circle cx="110.85" cy="116" r="2.85" fill="#c05050"/>
<circle cx="111.94" cy="110.89" r="2.85" fill="#c05050"/>
<circle cx="112.97" cy="112" r="2.85" fill="#c05050"/>
<circle cx="113.97" cy="111.01" r="2.85" fill="#c05050"/>
<circle cx="114.92" cy="107.5" r="2.85" fill="#c05050"/>
<circle cx="115.83" cy="111.28" r="2.85" fill="#c05050"/>
<circle cx="116.71" cy="108.82" r="2.85" fill="#c05050"/>
<circle cx="117.56" cy="116.5" r="2.85" fill="#c05050"/>
<circle cx="118.38" cy="113.99" r="2.85" fill="#c05050"/>
<circle cx="119.17" cy="110" r="2.85" fill="#c05050"/>
<circle cx="119.93" cy="113.7" r="2.85" fill="#c05050"/>
<circle cx="120.67" cy="108.62" r="2.85" fill="#c05050"/>
<circle cx="121.39" cy="113" r="2.85" fill="#c05050"/>
<circle cx="122.09" cy="110.47" r="2.85" fill="#c05050"/>
<circle cx="122.76" cy="111.32" r="2.85" fill="#c05050"/>
<circle cx="123.42" cy="106.5" r="2.85" fill="#c05050"/>
<circle cx="124.06" cy="113.66" r="2.85" fill="#c05050"/>
<circle cx="124.68" cy="112.84" r="2.85" fill="#c05050"/>
<circle cx="125.28" cy="116.5" r="2.85" fill="#c05050"/>
<circle cx="125.87" cy="113.9" r="2.85" fill="#c05050"/>
<circle cx="126.45" cy="107" r="2.85" fill="#c05050"/>
<circle cx="127.01" cy="111.19" r="2.85" fill="#c05050"/>
<circle cx="127.56" cy="114" r="2.85" fill="#c05050"/>
<circle cx="128.09" cy="110.5" r="2.85" fill="#c05050"/>
<path d="M196.4 109.5V113.5M193.6 109.5H199.2M193.6 113.5H199.2" stroke="#c05050" stroke-width="0.9" fill="none"/>
<circle cx="196.4" cy="111.5" r="2.6" fill="#c05050"/>
<path d="M212 110.8V117.8M209.2 110.8H214.8M209.2 117.8H214.8" stroke="#c05050" stroke-width="0.9" fill="none"/>
<circle cx="212" cy="114.3" r="2.6" fill="#c05050"/>
<path d="M221.1 105V112M218.3 105H223.9M218.3 112H223.9" stroke="#c05050" stroke-width="0.9" fill="none"/>
<circle cx="221.1" cy="108.5" r="2.6" fill="#c05050"/>
<path d="M232.9 98.5V108.1M230.1 98.5H235.7M230.1 108.1H235.7" stroke="#c05050" stroke-width="0.9" fill="none"/>
<circle cx="232.9" cy="103.3" r="2.6" fill="#c05050"/>
<path d="M236.9 114.3V132.3M234.1 114.3H239.7M234.1 132.3H239.7" stroke="#c05050" stroke-width="0.9" fill="none"/>
<circle cx="236.9" cy="123.3" r="2.6" fill="#c05050"/>
<path d="M246.3 119.5V160M243.5 119.5H249.1M243.5 160H249.1" stroke="#c05050" stroke-width="0.9" fill="none"/>
<circle cx="246.3" cy="137" r="2.6" fill="#c05050"/>
</g>
<line x1="181.9" y1="131" x2="208.9" y2="131" stroke="#000" stroke-width="2" />
<path d="M207.9 126.3L225.5 131L207.9 135.7Z" fill="#000"/>
<g clip-path="url(#ca2)">
<line x1="38" y1="197.3" x2="305.5" y2="197.3" stroke="#e46262" stroke-width="1.1" />
<line x1="38" y1="191.8" x2="305.5" y2="191.8" stroke="#e46262" stroke-width="1.5" stroke-dasharray="5.8 5.7"/>
<line x1="38" y1="203.2" x2="305.5" y2="203.2" stroke="#e46262" stroke-width="1.5" stroke-dasharray="5.8 5.7"/>
<path d="M66.43 189.2V198.2M63.63 189.2H69.23M63.63 198.2H69.23" stroke="#e46262" stroke-width="0.7" fill="none" opacity="0.75"/>
<path d="M72.69 189.2V198.2M69.89 189.2H75.49M69.89 198.2H75.49" stroke="#e46262" stroke-width="0.7" fill="none" opacity="0.75"/>
<path d="M77.48 193.7V205.7M74.68 193.7H80.28M74.68 205.7H80.28" stroke="#e46262" stroke-width="0.7" fill="none" opacity="0.75"/>
<path d="M81.38 190V201M78.58 190H84.18M78.58 201H84.18" stroke="#e46262" stroke-width="0.7" fill="none" opacity="0.75"/>
<path d="M85.31 193V204M82.51 193H88.11M82.51 204H88.11" stroke="#e46262" stroke-width="0.7" fill="none" opacity="0.75"/>
<path d="M88.29 188.8V199.8M85.49 188.8H91.09M85.49 199.8H91.09" stroke="#e46262" stroke-width="0.7" fill="none" opacity="0.75"/>
<path d="M91.03 195.1V204.3M88.23 195.1H93.83M88.23 204.3H93.83" stroke="#e46262" stroke-width="0.7" fill="none" opacity="0.75"/>
<path d="M93.5 191.03V201.42M90.7 191.03H96.3M90.7 201.42H96.3" stroke="#e46262" stroke-width="0.7" fill="none" opacity="0.75"/>
<path d="M95.74 192.59V201.85M92.94 192.59H98.54M92.94 201.85H98.54" stroke="#e46262" stroke-width="0.7" fill="none" opacity="0.75"/>
<path d="M97.77 187.2V194.2M94.97 187.2H100.57M94.97 194.2H100.57" stroke="#e46262" stroke-width="0.7" fill="none" opacity="0.75"/>
<path d="M99.65 190.25V201.72M96.85 190.25H102.45M96.85 201.72H102.45" stroke="#e46262" stroke-width="0.7" fill="none" opacity="0.75"/>
<path d="M101.38 192V202M98.58 192H104.18M98.58 202H104.18" stroke="#e46262" stroke-width="0.7" fill="none" opacity="0.75"/>
<path d="M102.99 190.94V199.22M100.19 190.94H105.79M100.19 199.22H105.79" stroke="#e46262" stroke-width="0.7" fill="none" opacity="0.75"/>
<path d="M104.5 188.6V198.6M101.7 188.6H107.3M101.7 198.6H107.3" stroke="#e46262" stroke-width="0.7" fill="none" opacity="0.75"/>
<path d="M105.92 189.92V202.35M103.12 189.92H108.72M103.12 202.35H108.72" stroke="#e46262" stroke-width="0.7" fill="none" opacity="0.75"/>
<path d="M107.25 191.1V203.11M104.45 191.1H110.05M104.45 203.11H110.05" stroke="#e46262" stroke-width="0.7" fill="none" opacity="0.75"/>
<path d="M108.52 194V204M105.72 194H111.32M105.72 204H111.32" stroke="#e46262" stroke-width="0.7" fill="none" opacity="0.75"/>
<path d="M109.71 195.07V206.34M106.91 195.07H112.51M106.91 206.34H112.51" stroke="#e46262" stroke-width="0.7" fill="none" opacity="0.75"/>
<path d="M110.85 191.4V202.75M108.05 191.4H113.65M108.05 202.75H113.65" stroke="#e46262" stroke-width="0.7" fill="none" opacity="0.75"/>
<path d="M111.94 194.07V206.62M109.14 194.07H114.74M109.14 206.62H114.74" stroke="#e46262" stroke-width="0.7" fill="none" opacity="0.75"/>
<path d="M112.97 184.6V192.6M110.17 184.6H115.77M110.17 192.6H115.77" stroke="#e46262" stroke-width="0.7" fill="none" opacity="0.75"/>
<path d="M113.97 190.01V199.22M111.17 190.01H116.77M111.17 199.22H116.77" stroke="#e46262" stroke-width="0.7" fill="none" opacity="0.75"/>
<path d="M114.92 191.23V201.04M112.12 191.23H117.72M112.12 201.04H117.72" stroke="#e46262" stroke-width="0.7" fill="none" opacity="0.75"/>
<path d="M115.83 192.5V203.5M113.03 192.5H118.63M113.03 203.5H118.63" stroke="#e46262" stroke-width="0.7" fill="none" opacity="0.75"/>
<path d="M116.71 193.78V203.79M113.91 193.78H119.51M113.91 203.79H119.51" stroke="#e46262" stroke-width="0.7" fill="none" opacity="0.75"/>
<path d="M117.56 190.75V200.66M114.76 190.75H120.36M114.76 200.66H120.36" stroke="#e46262" stroke-width="0.7" fill="none" opacity="0.75"/>
<path d="M118.38 191.65V201.61M115.58 191.65H121.18M115.58 201.61H121.18" stroke="#e46262" stroke-width="0.7" fill="none" opacity="0.75"/>
<path d="M119.17 187.5V192.5M116.37 187.5H121.97M116.37 192.5H121.97" stroke="#e46262" stroke-width="0.7" fill="none" opacity="0.75"/>
<path d="M119.93 188.98V201.82M117.13 188.98H122.73M117.13 201.82H122.73" stroke="#e46262" stroke-width="0.7" fill="none" opacity="0.75"/>
<path d="M120.67 190.53V199.27M117.87 190.53H123.47M117.87 199.27H123.47" stroke="#e46262" stroke-width="0.7" fill="none" opacity="0.75"/>
<path d="M121.39 196V206M118.59 196H124.19M118.59 206H124.19" stroke="#e46262" stroke-width="0.7" fill="none" opacity="0.75"/>
<path d="M122.09 185.4V197.5M119.29 185.4H124.89M119.29 197.5H124.89" stroke="#e46262" stroke-width="0.7" fill="none" opacity="0.75"/>
<path d="M122.76 189.32V198.05M119.96 189.32H125.56M119.96 198.05H125.56" stroke="#e46262" stroke-width="0.7" fill="none" opacity="0.75"/>
<path d="M123.42 202.2V212.6M120.62 202.2H126.22M120.62 212.6H126.22" stroke="#e46262" stroke-width="0.7" fill="none" opacity="0.75"/>
<path d="M124.06 193.03V202.6M121.26 193.03H126.86M121.26 202.6H126.86" stroke="#e46262" stroke-width="0.7" fill="none" opacity="0.75"/>
<path d="M124.68 194.42V206.45M121.88 194.42H127.48M121.88 206.45H127.48" stroke="#e46262" stroke-width="0.7" fill="none" opacity="0.75"/>
<path d="M125.28 195.1V205.34M122.48 195.1H128.08M122.48 205.34H128.08" stroke="#e46262" stroke-width="0.7" fill="none" opacity="0.75"/>
<path d="M125.87 188.15V198.46M123.07 188.15H128.67M123.07 198.46H128.67" stroke="#e46262" stroke-width="0.7" fill="none" opacity="0.75"/>
<path d="M126.45 180.7V189.3M123.65 180.7H129.25M123.65 189.3H129.25" stroke="#e46262" stroke-width="0.7" fill="none" opacity="0.75"/>
<path d="M127.01 188.9V200.96M124.21 188.9H129.81M124.21 200.96H129.81" stroke="#e46262" stroke-width="0.7" fill="none" opacity="0.75"/>
<path d="M127.56 192.3V201.25M124.76 192.3H130.36M124.76 201.25H130.36" stroke="#e46262" stroke-width="0.7" fill="none" opacity="0.75"/>
<path d="M128.09 189.3V210.7M125.29 189.3H130.89M125.29 210.7H130.89" stroke="#e46262" stroke-width="0.7" fill="none" opacity="0.75"/>
<circle cx="66.43" cy="193.7" r="2.85" fill="#e46262"/>
<circle cx="72.69" cy="193.7" r="2.85" fill="#e46262"/>
<circle cx="77.48" cy="199.7" r="2.85" fill="#e46262"/>
<circle cx="81.38" cy="195.5" r="2.85" fill="#e46262"/>
<circle cx="85.31" cy="198.5" r="2.85" fill="#e46262"/>
<circle cx="88.29" cy="194.3" r="2.85" fill="#e46262"/>
<circle cx="91.03" cy="199.7" r="2.85" fill="#e46262"/>
<circle cx="93.5" cy="196.22" r="2.85" fill="#e46262"/>
<circle cx="95.74" cy="197.22" r="2.85" fill="#e46262"/>
<circle cx="97.77" cy="190.7" r="2.85" fill="#e46262"/>
<circle cx="99.65" cy="195.98" r="2.85" fill="#e46262"/>
<circle cx="101.38" cy="197" r="2.85" fill="#e46262"/>
<circle cx="102.99" cy="195.08" r="2.85" fill="#e46262"/>
<circle cx="104.5" cy="193.6" r="2.85" fill="#e46262"/>
<circle cx="105.92" cy="196.14" r="2.85" fill="#e46262"/>
<circle cx="107.25" cy="197.11" r="2.85" fill="#e46262"/>
<circle cx="108.52" cy="199" r="2.85" fill="#e46262"/>
<circle cx="109.71" cy="200.71" r="2.85" fill="#e46262"/>
<circle cx="110.85" cy="197.07" r="2.85" fill="#e46262"/>
<circle cx="111.94" cy="200.35" r="2.85" fill="#e46262"/>
<circle cx="112.97" cy="188.6" r="2.85" fill="#e46262"/>
<circle cx="113.97" cy="194.61" r="2.85" fill="#e46262"/>
<circle cx="114.92" cy="196.13" r="2.85" fill="#e46262"/>
<circle cx="115.83" cy="198" r="2.85" fill="#e46262"/>
<circle cx="116.71" cy="198.78" r="2.85" fill="#e46262"/>
<circle cx="117.56" cy="195.7" r="2.85" fill="#e46262"/>
<circle cx="118.38" cy="196.63" r="2.85" fill="#e46262"/>
<circle cx="119.17" cy="190" r="2.85" fill="#e46262"/>
<circle cx="119.93" cy="195.4" r="2.85" fill="#e46262"/>
<circle cx="120.67" cy="194.9" r="2.85" fill="#e46262"/>
<circle cx="121.39" cy="201" r="2.85" fill="#e46262"/>
<circle cx="122.09" cy="191.45" r="2.85" fill="#e46262"/>
<circle cx="122.76" cy="193.69" r="2.85" fill="#e46262"/>
<circle cx="123.42" cy="207.4" r="2.85" fill="#e46262"/>
<circle cx="124.06" cy="197.81" r="2.85" fill="#e46262"/>
<circle cx="124.68" cy="200.44" r="2.85" fill="#e46262"/>
<circle cx="125.28" cy="200.22" r="2.85" fill="#e46262"/>
<circle cx="125.87" cy="193.3" r="2.85" fill="#e46262"/>
<circle cx="126.45" cy="185" r="2.85" fill="#e46262"/>
<circle cx="127.01" cy="194.93" r="2.85" fill="#e46262"/>
<circle cx="127.56" cy="196.78" r="2.85" fill="#e46262"/>
<circle cx="128.09" cy="200" r="2.85" fill="#e46262"/>
<path d="M196.3 181.7V194M193.5 181.7H199.1M193.5 194H199.1" stroke="#e46262" stroke-width="0.9" fill="none"/>
<circle cx="196.3" cy="188" r="2.6" fill="#e46262"/>
<path d="M211.8 175V187M209 175H214.6M209 187H214.6" stroke="#e46262" stroke-width="0.9" fill="none"/>
<circle cx="211.8" cy="181.1" r="2.6" fill="#e46262"/>
<path d="M221.1 172.1V182.6M218.3 172.1H223.9M218.3 182.6H223.9" stroke="#e46262" stroke-width="0.9" fill="none"/>
<circle cx="221.1" cy="177.3" r="2.6" fill="#e46262"/>
<path d="M232.5 172.5V185.9M229.7 172.5H235.3M229.7 185.9H235.3" stroke="#e46262" stroke-width="0.9" fill="none"/>
<circle cx="232.5" cy="179.4" r="2.6" fill="#e46262"/>
<path d="M237.3 157.3V182.2M234.5 157.3H240.1M234.5 182.2H240.1" stroke="#e46262" stroke-width="0.9" fill="none"/>
<circle cx="237.3" cy="169.7" r="2.6" fill="#e46262"/>
<path d="M246.4 120V191.2M243.6 120H249.2M243.6 191.2H249.2" stroke="#e46262" stroke-width="0.9" fill="none"/>
<circle cx="246.4" cy="168.7" r="2.6" fill="#e46262"/>
</g>
<line x1="144.5" y1="171.8" x2="171.2" y2="171.8" stroke="#000" stroke-width="2" />
<path d="M170.2 167.1L188.3 171.8L170.2 176.5Z" fill="#000"/>
<g clip-path="url(#ca3)">
<line x1="38" y1="250.9" x2="305.5" y2="250.9" stroke="#04a604" stroke-width="1.1" />
<line x1="38" y1="246.4" x2="305.5" y2="246.4" stroke="#04a604" stroke-width="1.5" stroke-dasharray="5.8 5.7"/>
<line x1="38" y1="255.3" x2="305.5" y2="255.3" stroke="#04a604" stroke-width="1.5" stroke-dasharray="5.8 5.7"/>
<path d="M66.43 245.7V255.3M63.63 245.7H69.23M63.63 255.3H69.23" stroke="#04a604" stroke-width="0.7" fill="none" opacity="0.75"/>
<path d="M72.69 246.12V255.7M69.89 246.12H75.49M69.89 255.7H75.49" stroke="#04a604" stroke-width="0.7" fill="none" opacity="0.75"/>
<path d="M77.48 245.41V253.97M74.68 245.41H80.28M74.68 253.97H80.28" stroke="#04a604" stroke-width="0.7" fill="none" opacity="0.75"/>
<path d="M81.38 245.81V255.72M78.58 245.81H84.18M78.58 255.72H84.18" stroke="#04a604" stroke-width="0.7" fill="none" opacity="0.75"/>
<path d="M85.31 245.63V253.94M82.51 245.63H88.11M82.51 253.94H88.11" stroke="#04a604" stroke-width="0.7" fill="none" opacity="0.75"/>
<path d="M88.29 245.11V254.3M85.49 245.11H91.09M85.49 254.3H91.09" stroke="#04a604" stroke-width="0.7" fill="none" opacity="0.75"/>
<path d="M91.03 247.13V257.96M88.23 247.13H93.83M88.23 257.96H93.83" stroke="#04a604" stroke-width="0.7" fill="none" opacity="0.75"/>
<path d="M93.5 247.81V256.13M90.7 247.81H96.3M90.7 256.13H96.3" stroke="#04a604" stroke-width="0.7" fill="none" opacity="0.75"/>
<path d="M95.74 248.27V259.21M92.94 248.27H98.54M92.94 259.21H98.54" stroke="#04a604" stroke-width="0.7" fill="none" opacity="0.75"/>
<path d="M97.77 245.02V255.91M94.97 245.02H100.57M94.97 255.91H100.57" stroke="#04a604" stroke-width="0.7" fill="none" opacity="0.75"/>
<path d="M99.65 245.56V256.19M96.85 245.56H102.45M96.85 256.19H102.45" stroke="#04a604" stroke-width="0.7" fill="none" opacity="0.75"/>
<path d="M101.38 246.53V255.26M98.58 246.53H104.18M98.58 255.26H104.18" stroke="#04a604" stroke-width="0.7" fill="none" opacity="0.75"/>
<path d="M102.99 246.69V255.36M100.19 246.69H105.79M100.19 255.36H105.79" stroke="#04a604" stroke-width="0.7" fill="none" opacity="0.75"/>
<path d="M104.5 246.24V256.85M101.7 246.24H107.3M101.7 256.85H107.3" stroke="#04a604" stroke-width="0.7" fill="none" opacity="0.75"/>
<path d="M105.92 242.75V253.67M103.12 242.75H108.72M103.12 253.67H108.72" stroke="#04a604" stroke-width="0.7" fill="none" opacity="0.75"/>
<path d="M107.25 245.77V257.29M104.45 245.77H110.05M104.45 257.29H110.05" stroke="#04a604" stroke-width="0.7" fill="none" opacity="0.75"/>
<path d="M108.52 243.1V253.88M105.72 243.1H111.32M105.72 253.88H111.32" stroke="#04a604" stroke-width="0.7" fill="none" opacity="0.75"/>
<path d="M109.71 245.48V255.54M106.91 245.48H112.51M106.91 255.54H112.51" stroke="#04a604" stroke-width="0.7" fill="none" opacity="0.75"/>
<path d="M110.85 248.86V261.47M108.05 248.86H113.65M108.05 261.47H113.65" stroke="#04a604" stroke-width="0.7" fill="none" opacity="0.75"/>
<path d="M111.94 244.19V256.28M109.14 244.19H114.74M109.14 256.28H114.74" stroke="#04a604" stroke-width="0.7" fill="none" opacity="0.75"/>
<path d="M112.97 249V258M110.17 249H115.77M110.17 258H115.77" stroke="#04a604" stroke-width="0.7" fill="none" opacity="0.75"/>
<path d="M113.97 246.44V255.76M111.17 246.44H116.77M111.17 255.76H116.77" stroke="#04a604" stroke-width="0.7" fill="none" opacity="0.75"/>
<path d="M114.92 243.73V256.61M112.12 243.73H117.72M112.12 256.61H117.72" stroke="#04a604" stroke-width="0.7" fill="none" opacity="0.75"/>
<path d="M115.83 242.94V253.79M113.03 242.94H118.63M113.03 253.79H118.63" stroke="#04a604" stroke-width="0.7" fill="none" opacity="0.75"/>
<path d="M116.71 248.19V257.32M113.91 248.19H119.51M113.91 257.32H119.51" stroke="#04a604" stroke-width="0.7" fill="none" opacity="0.75"/>
<path d="M117.56 249.5V258.5M114.76 249.5H120.36M114.76 258.5H120.36" stroke="#04a604" stroke-width="0.7" fill="none" opacity="0.75"/>
<path d="M118.38 244.33V258.03M115.58 244.33H121.18M115.58 258.03H121.18" stroke="#04a604" stroke-width="0.7" fill="none" opacity="0.75"/>
<path d="M119.17 239V250M116.37 239H121.97M116.37 250H121.97" stroke="#04a604" stroke-width="0.7" fill="none" opacity="0.75"/>
<path d="M119.93 245.13V258M117.13 245.13H122.73M117.13 258H122.73" stroke="#04a604" stroke-width="0.7" fill="none" opacity="0.75"/>
<path d="M120.67 245.17V255.72M117.87 245.17H123.47M117.87 255.72H123.47" stroke="#04a604" stroke-width="0.7" fill="none" opacity="0.75"/>
<path d="M121.39 243.69V257.51M118.59 243.69H124.19M118.59 257.51H124.19" stroke="#04a604" stroke-width="0.7" fill="none" opacity="0.75"/>
<path d="M122.09 238.5V249.5M119.29 238.5H124.89M119.29 249.5H124.89" stroke="#04a604" stroke-width="0.7" fill="none" opacity="0.75"/>
<path d="M122.76 245.17V255.02M119.96 245.17H125.56M119.96 255.02H125.56" stroke="#04a604" stroke-width="0.7" fill="none" opacity="0.75"/>
<path d="M123.42 245.09V254.78M120.62 245.09H126.22M120.62 254.78H126.22" stroke="#04a604" stroke-width="0.7" fill="none" opacity="0.75"/>
<path d="M124.06 243.27V255.34M121.26 243.27H126.86M121.26 255.34H126.86" stroke="#04a604" stroke-width="0.7" fill="none" opacity="0.75"/>
<path d="M124.68 237V249M121.88 237H127.48M121.88 249H127.48" stroke="#04a604" stroke-width="0.7" fill="none" opacity="0.75"/>
<path d="M125.28 244.82V254.92M122.48 244.82H128.08M122.48 254.92H128.08" stroke="#04a604" stroke-width="0.7" fill="none" opacity="0.75"/>
<path d="M125.87 245.13V257.7M123.07 245.13H128.67M123.07 257.7H128.67" stroke="#04a604" stroke-width="0.7" fill="none" opacity="0.75"/>
<path d="M126.45 235.5V248.5M123.65 235.5H129.25M123.65 248.5H129.25" stroke="#04a604" stroke-width="0.7" fill="none" opacity="0.75"/>
<path d="M127.01 244.44V255.29M124.21 244.44H129.81M124.21 255.29H129.81" stroke="#04a604" stroke-width="0.7" fill="none" opacity="0.75"/>
<path d="M127.56 246.21V257.25M124.76 246.21H130.36M124.76 257.25H130.36" stroke="#04a604" stroke-width="0.7" fill="none" opacity="0.75"/>
<path d="M128.09 240.99V254.83M125.29 240.99H130.89M125.29 254.83H130.89" stroke="#04a604" stroke-width="0.7" fill="none" opacity="0.75"/>
<path d="M128.4 232.3V247.3M125.6 232.3H131.2M125.6 247.3H131.2" stroke="#04a604" stroke-width="0.7" fill="none" opacity="0.75"/>
<path d="M128.2 253V268M125.4 253H131M125.4 268H131" stroke="#04a604" stroke-width="0.7" fill="none" opacity="0.75"/>
<circle cx="66.43" cy="250.5" r="2.85" fill="#04a604"/>
<circle cx="72.69" cy="250.91" r="2.85" fill="#04a604"/>
<circle cx="77.48" cy="249.69" r="2.85" fill="#04a604"/>
<circle cx="81.38" cy="250.76" r="2.85" fill="#04a604"/>
<circle cx="85.31" cy="249.78" r="2.85" fill="#04a604"/>
<circle cx="88.29" cy="249.71" r="2.85" fill="#04a604"/>
<circle cx="91.03" cy="252.54" r="2.85" fill="#04a604"/>
<circle cx="93.5" cy="251.97" r="2.85" fill="#04a604"/>
<circle cx="95.74" cy="253.74" r="2.85" fill="#04a604"/>
<circle cx="97.77" cy="250.47" r="2.85" fill="#04a604"/>
<circle cx="99.65" cy="250.87" r="2.85" fill="#04a604"/>
<circle cx="101.38" cy="250.9" r="2.85" fill="#04a604"/>
<circle cx="102.99" cy="251.02" r="2.85" fill="#04a604"/>
<circle cx="104.5" cy="251.54" r="2.85" fill="#04a604"/>
<circle cx="105.92" cy="248.21" r="2.85" fill="#04a604"/>
<circle cx="107.25" cy="251.53" r="2.85" fill="#04a604"/>
<circle cx="108.52" cy="248.49" r="2.85" fill="#04a604"/>
<circle cx="109.71" cy="250.51" r="2.85" fill="#04a604"/>
<circle cx="110.85" cy="255.16" r="2.85" fill="#04a604"/>
<circle cx="111.94" cy="250.24" r="2.85" fill="#04a604"/>
<circle cx="112.97" cy="253.5" r="2.85" fill="#04a604"/>
<circle cx="113.97" cy="251.1" r="2.85" fill="#04a604"/>
<circle cx="114.92" cy="250.17" r="2.85" fill="#04a604"/>
<circle cx="115.83" cy="248.36" r="2.85" fill="#04a604"/>
<circle cx="116.71" cy="252.75" r="2.85" fill="#04a604"/>
<circle cx="117.56" cy="254" r="2.85" fill="#04a604"/>
<circle cx="118.38" cy="251.18" r="2.85" fill="#04a604"/>
<circle cx="119.17" cy="244.5" r="2.85" fill="#04a604"/>
<circle cx="119.93" cy="251.57" r="2.85" fill="#04a604"/>
<circle cx="120.67" cy="250.44" r="2.85" fill="#04a604"/>
<circle cx="121.39" cy="250.6" r="2.85" fill="#04a604"/>
<circle cx="122.09" cy="244" r="2.85" fill="#04a604"/>
<circle cx="122.76" cy="250.09" r="2.85" fill="#04a604"/>
<circle cx="123.42" cy="249.94" r="2.85" fill="#04a604"/>
<circle cx="124.06" cy="249.31" r="2.85" fill="#04a604"/>
<circle cx="124.68" cy="243" r="2.85" fill="#04a604"/>
<circle cx="125.28" cy="249.87" r="2.85" fill="#04a604"/>
<circle cx="125.87" cy="251.42" r="2.85" fill="#04a604"/>
<circle cx="126.45" cy="242" r="2.85" fill="#04a604"/>
<circle cx="127.01" cy="249.87" r="2.85" fill="#04a604"/>
<circle cx="127.56" cy="251.73" r="2.85" fill="#04a604"/>
<circle cx="128.09" cy="247.91" r="2.85" fill="#04a604"/>
<circle cx="128.4" cy="239.8" r="2.85" fill="#04a604"/>
<circle cx="128.2" cy="260.5" r="2.85" fill="#04a604"/>
<path d="M196.3 233.4V244.4M193.5 233.4H199.1M193.5 244.4H199.1" stroke="#04a604" stroke-width="0.9" fill="none"/>
<circle cx="196.3" cy="239" r="2.6" fill="#04a604"/>
<path d="M211.8 224.4V236.2M209 224.4H214.6M209 236.2H214.6" stroke="#04a604" stroke-width="0.9" fill="none"/>
<circle cx="211.8" cy="230.6" r="2.6" fill="#04a604"/>
<path d="M221.1 225.5V237M218.3 225.5H223.9M218.3 237H223.9" stroke="#04a604" stroke-width="0.9" fill="none"/>
<circle cx="221.1" cy="231.4" r="2.6" fill="#04a604"/>
<path d="M232.4 235.6V247.5M229.6 235.6H235.2M229.6 247.5H235.2" stroke="#04a604" stroke-width="0.9" fill="none"/>
<circle cx="232.4" cy="241.8" r="2.6" fill="#04a604"/>
<path d="M237.2 217V243.8M234.4 217H240M234.4 243.8H240" stroke="#04a604" stroke-width="0.9" fill="none"/>
<circle cx="237.2" cy="230.6" r="2.6" fill="#04a604"/>
<path d="M246.5 215V261.5M243.7 215H249.3M243.7 261.5H249.3" stroke="#04a604" stroke-width="0.9" fill="none"/>
<circle cx="246.5" cy="229.4" r="2.6" fill="#04a604"/>
</g>
<line x1="145" y1="234" x2="171.4" y2="234" stroke="#000" stroke-width="2" />
<path d="M170.4 229.3L188 234L170.4 238.7Z" fill="#000"/>
<line x1="38" y1="13.5" x2="38" y2="17.5" stroke="#2e2e2e" stroke-width="0.7" />
<line x1="38" y1="80.6" x2="38" y2="76.6" stroke="#2e2e2e" stroke-width="0.7" />
<line x1="54.11" y1="13.5" x2="54.11" y2="15.5" stroke="#2e2e2e" stroke-width="0.7" />
<line x1="54.11" y1="80.6" x2="54.11" y2="78.6" stroke="#2e2e2e" stroke-width="0.7" />
<line x1="63.53" y1="13.5" x2="63.53" y2="15.5" stroke="#2e2e2e" stroke-width="0.7" />
<line x1="63.53" y1="80.6" x2="63.53" y2="78.6" stroke="#2e2e2e" stroke-width="0.7" />
<line x1="70.21" y1="13.5" x2="70.21" y2="15.5" stroke="#2e2e2e" stroke-width="0.7" />
<line x1="70.21" y1="80.6" x2="70.21" y2="78.6" stroke="#2e2e2e" stroke-width="0.7" />
<line x1="75.39" y1="13.5" x2="75.39" y2="15.5" stroke="#2e2e2e" stroke-width="0.7" />
<line x1="75.39" y1="80.6" x2="75.39" y2="78.6" stroke="#2e2e2e" stroke-width="0.7" />
<line x1="79.63" y1="13.5" x2="79.63" y2="15.5" stroke="#2e2e2e" stroke-width="0.7" />
<line x1="79.63" y1="80.6" x2="79.63" y2="78.6" stroke="#2e2e2e" stroke-width="0.7" />
<line x1="83.21" y1="13.5" x2="83.21" y2="15.5" stroke="#2e2e2e" stroke-width="0.7" />
<line x1="83.21" y1="80.6" x2="83.21" y2="78.6" stroke="#2e2e2e" stroke-width="0.7" />
<line x1="86.32" y1="13.5" x2="86.32" y2="15.5" stroke="#2e2e2e" stroke-width="0.7" />
<line x1="86.32" y1="80.6" x2="86.32" y2="78.6" stroke="#2e2e2e" stroke-width="0.7" />
<line x1="89.05" y1="13.5" x2="89.05" y2="15.5" stroke="#2e2e2e" stroke-width="0.7" />
<line x1="89.05" y1="80.6" x2="89.05" y2="78.6" stroke="#2e2e2e" stroke-width="0.7" />
<line x1="91.5" y1="13.5" x2="91.5" y2="17.5" stroke="#2e2e2e" stroke-width="0.7" />
<line x1="91.5" y1="80.6" x2="91.5" y2="76.6" stroke="#2e2e2e" stroke-width="0.7" />
<line x1="107.61" y1="13.5" x2="107.61" y2="15.5" stroke="#2e2e2e" stroke-width="0.7" />
<line x1="107.61" y1="80.6" x2="107.61" y2="78.6" stroke="#2e2e2e" stroke-width="0.7" />
<line x1="117.03" y1="13.5" x2="117.03" y2="15.5" stroke="#2e2e2e" stroke-width="0.7" />
<line x1="117.03" y1="80.6" x2="117.03" y2="78.6" stroke="#2e2e2e" stroke-width="0.7" />
<line x1="123.71" y1="13.5" x2="123.71" y2="15.5" stroke="#2e2e2e" stroke-width="0.7" />
<line x1="123.71" y1="80.6" x2="123.71" y2="78.6" stroke="#2e2e2e" stroke-width="0.7" />
<line x1="128.89" y1="13.5" x2="128.89" y2="15.5" stroke="#2e2e2e" stroke-width="0.7" />
<line x1="128.89" y1="80.6" x2="128.89" y2="78.6" stroke="#2e2e2e" stroke-width="0.7" />
<line x1="133.13" y1="13.5" x2="133.13" y2="15.5" stroke="#2e2e2e" stroke-width="0.7" />
<line x1="133.13" y1="80.6" x2="133.13" y2="78.6" stroke="#2e2e2e" stroke-width="0.7" />
<line x1="136.71" y1="13.5" x2="136.71" y2="15.5" stroke="#2e2e2e" stroke-width="0.7" />
<line x1="136.71" y1="80.6" x2="136.71" y2="78.6" stroke="#2e2e2e" stroke-width="0.7" />
<line x1="139.82" y1="13.5" x2="139.82" y2="15.5" stroke="#2e2e2e" stroke-width="0.7" />
<line x1="139.82" y1="80.6" x2="139.82" y2="78.6" stroke="#2e2e2e" stroke-width="0.7" />
<line x1="142.55" y1="13.5" x2="142.55" y2="15.5" stroke="#2e2e2e" stroke-width="0.7" />
<line x1="142.55" y1="80.6" x2="142.55" y2="78.6" stroke="#2e2e2e" stroke-width="0.7" />
<line x1="145" y1="13.5" x2="145" y2="17.5" stroke="#2e2e2e" stroke-width="0.7" />
<line x1="145" y1="80.6" x2="145" y2="76.6" stroke="#2e2e2e" stroke-width="0.7" />
<line x1="161.11" y1="13.5" x2="161.11" y2="15.5" stroke="#2e2e2e" stroke-width="0.7" />
<line x1="161.11" y1="80.6" x2="161.11" y2="78.6" stroke="#2e2e2e" stroke-width="0.7" />
<line x1="170.53" y1="13.5" x2="170.53" y2="15.5" stroke="#2e2e2e" stroke-width="0.7" />
<line x1="170.53" y1="80.6" x2="170.53" y2="78.6" stroke="#2e2e2e" stroke-width="0.7" />
<line x1="177.21" y1="13.5" x2="177.21" y2="15.5" stroke="#2e2e2e" stroke-width="0.7" />
<line x1="177.21" y1="80.6" x2="177.21" y2="78.6" stroke="#2e2e2e" stroke-width="0.7" />
<line x1="182.39" y1="13.5" x2="182.39" y2="15.5" stroke="#2e2e2e" stroke-width="0.7" />
<line x1="182.39" y1="80.6" x2="182.39" y2="78.6" stroke="#2e2e2e" stroke-width="0.7" />
<line x1="186.63" y1="13.5" x2="186.63" y2="15.5" stroke="#2e2e2e" stroke-width="0.7" />
<line x1="186.63" y1="80.6" x2="186.63" y2="78.6" stroke="#2e2e2e" stroke-width="0.7" />
<line x1="190.21" y1="13.5" x2="190.21" y2="15.5" stroke="#2e2e2e" stroke-width="0.7" />
<line x1="190.21" y1="80.6" x2="190.21" y2="78.6" stroke="#2e2e2e" stroke-width="0.7" />
<line x1="193.32" y1="13.5" x2="193.32" y2="15.5" stroke="#2e2e2e" stroke-width="0.7" />
<line x1="193.32" y1="80.6" x2="193.32" y2="78.6" stroke="#2e2e2e" stroke-width="0.7" />
<line x1="196.05" y1="13.5" x2="196.05" y2="15.5" stroke="#2e2e2e" stroke-width="0.7" />
<line x1="196.05" y1="80.6" x2="196.05" y2="78.6" stroke="#2e2e2e" stroke-width="0.7" />
<line x1="198.5" y1="13.5" x2="198.5" y2="17.5" stroke="#2e2e2e" stroke-width="0.7" />
<line x1="198.5" y1="80.6" x2="198.5" y2="76.6" stroke="#2e2e2e" stroke-width="0.7" />
<line x1="214.61" y1="13.5" x2="214.61" y2="15.5" stroke="#2e2e2e" stroke-width="0.7" />
<line x1="214.61" y1="80.6" x2="214.61" y2="78.6" stroke="#2e2e2e" stroke-width="0.7" />
<line x1="224.03" y1="13.5" x2="224.03" y2="15.5" stroke="#2e2e2e" stroke-width="0.7" />
<line x1="224.03" y1="80.6" x2="224.03" y2="78.6" stroke="#2e2e2e" stroke-width="0.7" />
<line x1="230.71" y1="13.5" x2="230.71" y2="15.5" stroke="#2e2e2e" stroke-width="0.7" />
<line x1="230.71" y1="80.6" x2="230.71" y2="78.6" stroke="#2e2e2e" stroke-width="0.7" />
<line x1="235.89" y1="13.5" x2="235.89" y2="15.5" stroke="#2e2e2e" stroke-width="0.7" />
<line x1="235.89" y1="80.6" x2="235.89" y2="78.6" stroke="#2e2e2e" stroke-width="0.7" />
<line x1="240.13" y1="13.5" x2="240.13" y2="15.5" stroke="#2e2e2e" stroke-width="0.7" />
<line x1="240.13" y1="80.6" x2="240.13" y2="78.6" stroke="#2e2e2e" stroke-width="0.7" />
<line x1="243.71" y1="13.5" x2="243.71" y2="15.5" stroke="#2e2e2e" stroke-width="0.7" />
<line x1="243.71" y1="80.6" x2="243.71" y2="78.6" stroke="#2e2e2e" stroke-width="0.7" />
<line x1="246.82" y1="13.5" x2="246.82" y2="15.5" stroke="#2e2e2e" stroke-width="0.7" />
<line x1="246.82" y1="80.6" x2="246.82" y2="78.6" stroke="#2e2e2e" stroke-width="0.7" />
<line x1="249.55" y1="13.5" x2="249.55" y2="15.5" stroke="#2e2e2e" stroke-width="0.7" />
<line x1="249.55" y1="80.6" x2="249.55" y2="78.6" stroke="#2e2e2e" stroke-width="0.7" />
<line x1="252" y1="13.5" x2="252" y2="17.5" stroke="#2e2e2e" stroke-width="0.7" />
<line x1="252" y1="80.6" x2="252" y2="76.6" stroke="#2e2e2e" stroke-width="0.7" />
<line x1="268.11" y1="13.5" x2="268.11" y2="15.5" stroke="#2e2e2e" stroke-width="0.7" />
<line x1="268.11" y1="80.6" x2="268.11" y2="78.6" stroke="#2e2e2e" stroke-width="0.7" />
<line x1="277.53" y1="13.5" x2="277.53" y2="15.5" stroke="#2e2e2e" stroke-width="0.7" />
<line x1="277.53" y1="80.6" x2="277.53" y2="78.6" stroke="#2e2e2e" stroke-width="0.7" />
<line x1="284.21" y1="13.5" x2="284.21" y2="15.5" stroke="#2e2e2e" stroke-width="0.7" />
<line x1="284.21" y1="80.6" x2="284.21" y2="78.6" stroke="#2e2e2e" stroke-width="0.7" />
<line x1="289.39" y1="13.5" x2="289.39" y2="15.5" stroke="#2e2e2e" stroke-width="0.7" />
<line x1="289.39" y1="80.6" x2="289.39" y2="78.6" stroke="#2e2e2e" stroke-width="0.7" />
<line x1="293.63" y1="13.5" x2="293.63" y2="15.5" stroke="#2e2e2e" stroke-width="0.7" />
<line x1="293.63" y1="80.6" x2="293.63" y2="78.6" stroke="#2e2e2e" stroke-width="0.7" />
<line x1="297.21" y1="13.5" x2="297.21" y2="15.5" stroke="#2e2e2e" stroke-width="0.7" />
<line x1="297.21" y1="80.6" x2="297.21" y2="78.6" stroke="#2e2e2e" stroke-width="0.7" />
<line x1="300.32" y1="13.5" x2="300.32" y2="15.5" stroke="#2e2e2e" stroke-width="0.7" />
<line x1="300.32" y1="80.6" x2="300.32" y2="78.6" stroke="#2e2e2e" stroke-width="0.7" />
<line x1="303.05" y1="13.5" x2="303.05" y2="15.5" stroke="#2e2e2e" stroke-width="0.7" />
<line x1="303.05" y1="80.6" x2="303.05" y2="78.6" stroke="#2e2e2e" stroke-width="0.7" />
<line x1="305.5" y1="13.5" x2="305.5" y2="17.5" stroke="#2e2e2e" stroke-width="0.7" />
<line x1="305.5" y1="80.6" x2="305.5" y2="76.6" stroke="#2e2e2e" stroke-width="0.7" />
<line x1="38" y1="80.6" x2="38" y2="84.6" stroke="#2e2e2e" stroke-width="0.7" />
<line x1="38" y1="147.7" x2="38" y2="143.7" stroke="#2e2e2e" stroke-width="0.7" />
<line x1="54.11" y1="80.6" x2="54.11" y2="82.6" stroke="#2e2e2e" stroke-width="0.7" />
<line x1="54.11" y1="147.7" x2="54.11" y2="145.7" stroke="#2e2e2e" stroke-width="0.7" />
<line x1="63.53" y1="80.6" x2="63.53" y2="82.6" stroke="#2e2e2e" stroke-width="0.7" />
<line x1="63.53" y1="147.7" x2="63.53" y2="145.7" stroke="#2e2e2e" stroke-width="0.7" />
<line x1="70.21" y1="80.6" x2="70.21" y2="82.6" stroke="#2e2e2e" stroke-width="0.7" />
<line x1="70.21" y1="147.7" x2="70.21" y2="145.7" stroke="#2e2e2e" stroke-width="0.7" />
<line x1="75.39" y1="80.6" x2="75.39" y2="82.6" stroke="#2e2e2e" stroke-width="0.7" />
<line x1="75.39" y1="147.7" x2="75.39" y2="145.7" stroke="#2e2e2e" stroke-width="0.7" />
<line x1="79.63" y1="80.6" x2="79.63" y2="82.6" stroke="#2e2e2e" stroke-width="0.7" />
<line x1="79.63" y1="147.7" x2="79.63" y2="145.7" stroke="#2e2e2e" stroke-width="0.7" />
<line x1="83.21" y1="80.6" x2="83.21" y2="82.6" stroke="#2e2e2e" stroke-width="0.7" />
<line x1="83.21" y1="147.7" x2="83.21" y2="145.7" stroke="#2e2e2e" stroke-width="0.7" />
<line x1="86.32" y1="80.6" x2="86.32" y2="82.6" stroke="#2e2e2e" stroke-width="0.7" />
<line x1="86.32" y1="147.7" x2="86.32" y2="145.7" stroke="#2e2e2e" stroke-width="0.7" />
<line x1="89.05" y1="80.6" x2="89.05" y2="82.6" stroke="#2e2e2e" stroke-width="0.7" />
<line x1="89.05" y1="147.7" x2="89.05" y2="145.7" stroke="#2e2e2e" stroke-width="0.7" />
<line x1="91.5" y1="80.6" x2="91.5" y2="84.6" stroke="#2e2e2e" stroke-width="0.7" />
<line x1="91.5" y1="147.7" x2="91.5" y2="143.7" stroke="#2e2e2e" stroke-width="0.7" />
<line x1="107.61" y1="80.6" x2="107.61" y2="82.6" stroke="#2e2e2e" stroke-width="0.7" />
<line x1="107.61" y1="147.7" x2="107.61" y2="145.7" stroke="#2e2e2e" stroke-width="0.7" />
<line x1="117.03" y1="80.6" x2="117.03" y2="82.6" stroke="#2e2e2e" stroke-width="0.7" />
<line x1="117.03" y1="147.7" x2="117.03" y2="145.7" stroke="#2e2e2e" stroke-width="0.7" />
<line x1="123.71" y1="80.6" x2="123.71" y2="82.6" stroke="#2e2e2e" stroke-width="0.7" />
<line x1="123.71" y1="147.7" x2="123.71" y2="145.7" stroke="#2e2e2e" stroke-width="0.7" />
<line x1="128.89" y1="80.6" x2="128.89" y2="82.6" stroke="#2e2e2e" stroke-width="0.7" />
<line x1="128.89" y1="147.7" x2="128.89" y2="145.7" stroke="#2e2e2e" stroke-width="0.7" />
<line x1="133.13" y1="80.6" x2="133.13" y2="82.6" stroke="#2e2e2e" stroke-width="0.7" />
<line x1="133.13" y1="147.7" x2="133.13" y2="145.7" stroke="#2e2e2e" stroke-width="0.7" />
<line x1="136.71" y1="80.6" x2="136.71" y2="82.6" stroke="#2e2e2e" stroke-width="0.7" />
<line x1="136.71" y1="147.7" x2="136.71" y2="145.7" stroke="#2e2e2e" stroke-width="0.7" />
<line x1="139.82" y1="80.6" x2="139.82" y2="82.6" stroke="#2e2e2e" stroke-width="0.7" />
<line x1="139.82" y1="147.7" x2="139.82" y2="145.7" stroke="#2e2e2e" stroke-width="0.7" />
<line x1="142.55" y1="80.6" x2="142.55" y2="82.6" stroke="#2e2e2e" stroke-width="0.7" />
<line x1="142.55" y1="147.7" x2="142.55" y2="145.7" stroke="#2e2e2e" stroke-width="0.7" />
<line x1="145" y1="80.6" x2="145" y2="84.6" stroke="#2e2e2e" stroke-width="0.7" />
<line x1="145" y1="147.7" x2="145" y2="143.7" stroke="#2e2e2e" stroke-width="0.7" />
<line x1="161.11" y1="80.6" x2="161.11" y2="82.6" stroke="#2e2e2e" stroke-width="0.7" />
<line x1="161.11" y1="147.7" x2="161.11" y2="145.7" stroke="#2e2e2e" stroke-width="0.7" />
<line x1="170.53" y1="80.6" x2="170.53" y2="82.6" stroke="#2e2e2e" stroke-width="0.7" />
<line x1="170.53" y1="147.7" x2="170.53" y2="145.7" stroke="#2e2e2e" stroke-width="0.7" />
<line x1="177.21" y1="80.6" x2="177.21" y2="82.6" stroke="#2e2e2e" stroke-width="0.7" />
<line x1="177.21" y1="147.7" x2="177.21" y2="145.7" stroke="#2e2e2e" stroke-width="0.7" />
<line x1="182.39" y1="80.6" x2="182.39" y2="82.6" stroke="#2e2e2e" stroke-width="0.7" />
<line x1="182.39" y1="147.7" x2="182.39" y2="145.7" stroke="#2e2e2e" stroke-width="0.7" />
<line x1="186.63" y1="80.6" x2="186.63" y2="82.6" stroke="#2e2e2e" stroke-width="0.7" />
<line x1="186.63" y1="147.7" x2="186.63" y2="145.7" stroke="#2e2e2e" stroke-width="0.7" />
<line x1="190.21" y1="80.6" x2="190.21" y2="82.6" stroke="#2e2e2e" stroke-width="0.7" />
<line x1="190.21" y1="147.7" x2="190.21" y2="145.7" stroke="#2e2e2e" stroke-width="0.7" />
<line x1="193.32" y1="80.6" x2="193.32" y2="82.6" stroke="#2e2e2e" stroke-width="0.7" />
<line x1="193.32" y1="147.7" x2="193.32" y2="145.7" stroke="#2e2e2e" stroke-width="0.7" />
<line x1="196.05" y1="80.6" x2="196.05" y2="82.6" stroke="#2e2e2e" stroke-width="0.7" />
<line x1="196.05" y1="147.7" x2="196.05" y2="145.7" stroke="#2e2e2e" stroke-width="0.7" />
<line x1="198.5" y1="80.6" x2="198.5" y2="84.6" stroke="#2e2e2e" stroke-width="0.7" />
<line x1="198.5" y1="147.7" x2="198.5" y2="143.7" stroke="#2e2e2e" stroke-width="0.7" />
<line x1="214.61" y1="80.6" x2="214.61" y2="82.6" stroke="#2e2e2e" stroke-width="0.7" />
<line x1="214.61" y1="147.7" x2="214.61" y2="145.7" stroke="#2e2e2e" stroke-width="0.7" />
<line x1="224.03" y1="80.6" x2="224.03" y2="82.6" stroke="#2e2e2e" stroke-width="0.7" />
<line x1="224.03" y1="147.7" x2="224.03" y2="145.7" stroke="#2e2e2e" stroke-width="0.7" />
<line x1="230.71" y1="80.6" x2="230.71" y2="82.6" stroke="#2e2e2e" stroke-width="0.7" />
<line x1="230.71" y1="147.7" x2="230.71" y2="145.7" stroke="#2e2e2e" stroke-width="0.7" />
<line x1="235.89" y1="80.6" x2="235.89" y2="82.6" stroke="#2e2e2e" stroke-width="0.7" />
<line x1="235.89" y1="147.7" x2="235.89" y2="145.7" stroke="#2e2e2e" stroke-width="0.7" />
<line x1="240.13" y1="80.6" x2="240.13" y2="82.6" stroke="#2e2e2e" stroke-width="0.7" />
<line x1="240.13" y1="147.7" x2="240.13" y2="145.7" stroke="#2e2e2e" stroke-width="0.7" />
<line x1="243.71" y1="80.6" x2="243.71" y2="82.6" stroke="#2e2e2e" stroke-width="0.7" />
<line x1="243.71" y1="147.7" x2="243.71" y2="145.7" stroke="#2e2e2e" stroke-width="0.7" />
<line x1="246.82" y1="80.6" x2="246.82" y2="82.6" stroke="#2e2e2e" stroke-width="0.7" />
<line x1="246.82" y1="147.7" x2="246.82" y2="145.7" stroke="#2e2e2e" stroke-width="0.7" />
<line x1="249.55" y1="80.6" x2="249.55" y2="82.6" stroke="#2e2e2e" stroke-width="0.7" />
<line x1="249.55" y1="147.7" x2="249.55" y2="145.7" stroke="#2e2e2e" stroke-width="0.7" />
<line x1="252" y1="80.6" x2="252" y2="84.6" stroke="#2e2e2e" stroke-width="0.7" />
<line x1="252" y1="147.7" x2="252" y2="143.7" stroke="#2e2e2e" stroke-width="0.7" />
<line x1="268.11" y1="80.6" x2="268.11" y2="82.6" stroke="#2e2e2e" stroke-width="0.7" />
<line x1="268.11" y1="147.7" x2="268.11" y2="145.7" stroke="#2e2e2e" stroke-width="0.7" />
<line x1="277.53" y1="80.6" x2="277.53" y2="82.6" stroke="#2e2e2e" stroke-width="0.7" />
<line x1="277.53" y1="147.7" x2="277.53" y2="145.7" stroke="#2e2e2e" stroke-width="0.7" />
<line x1="284.21" y1="80.6" x2="284.21" y2="82.6" stroke="#2e2e2e" stroke-width="0.7" />
<line x1="284.21" y1="147.7" x2="284.21" y2="145.7" stroke="#2e2e2e" stroke-width="0.7" />
<line x1="289.39" y1="80.6" x2="289.39" y2="82.6" stroke="#2e2e2e" stroke-width="0.7" />
<line x1="289.39" y1="147.7" x2="289.39" y2="145.7" stroke="#2e2e2e" stroke-width="0.7" />
<line x1="293.63" y1="80.6" x2="293.63" y2="82.6" stroke="#2e2e2e" stroke-width="0.7" />
<line x1="293.63" y1="147.7" x2="293.63" y2="145.7" stroke="#2e2e2e" stroke-width="0.7" />
<line x1="297.21" y1="80.6" x2="297.21" y2="82.6" stroke="#2e2e2e" stroke-width="0.7" />
<line x1="297.21" y1="147.7" x2="297.21" y2="145.7" stroke="#2e2e2e" stroke-width="0.7" />
<line x1="300.32" y1="80.6" x2="300.32" y2="82.6" stroke="#2e2e2e" stroke-width="0.7" />
<line x1="300.32" y1="147.7" x2="300.32" y2="145.7" stroke="#2e2e2e" stroke-width="0.7" />
<line x1="303.05" y1="80.6" x2="303.05" y2="82.6" stroke="#2e2e2e" stroke-width="0.7" />
<line x1="303.05" y1="147.7" x2="303.05" y2="145.7" stroke="#2e2e2e" stroke-width="0.7" />
<line x1="305.5" y1="80.6" x2="305.5" y2="84.6" stroke="#2e2e2e" stroke-width="0.7" />
<line x1="305.5" y1="147.7" x2="305.5" y2="143.7" stroke="#2e2e2e" stroke-width="0.7" />
<line x1="38" y1="147.7" x2="38" y2="151.7" stroke="#2e2e2e" stroke-width="0.7" />
<line x1="38" y1="214.8" x2="38" y2="210.8" stroke="#2e2e2e" stroke-width="0.7" />
<line x1="54.11" y1="147.7" x2="54.11" y2="149.7" stroke="#2e2e2e" stroke-width="0.7" />
<line x1="54.11" y1="214.8" x2="54.11" y2="212.8" stroke="#2e2e2e" stroke-width="0.7" />
<line x1="63.53" y1="147.7" x2="63.53" y2="149.7" stroke="#2e2e2e" stroke-width="0.7" />
<line x1="63.53" y1="214.8" x2="63.53" y2="212.8" stroke="#2e2e2e" stroke-width="0.7" />
<line x1="70.21" y1="147.7" x2="70.21" y2="149.7" stroke="#2e2e2e" stroke-width="0.7" />
<line x1="70.21" y1="214.8" x2="70.21" y2="212.8" stroke="#2e2e2e" stroke-width="0.7" />
<line x1="75.39" y1="147.7" x2="75.39" y2="149.7" stroke="#2e2e2e" stroke-width="0.7" />
<line x1="75.39" y1="214.8" x2="75.39" y2="212.8" stroke="#2e2e2e" stroke-width="0.7" />
<line x1="79.63" y1="147.7" x2="79.63" y2="149.7" stroke="#2e2e2e" stroke-width="0.7" />
<line x1="79.63" y1="214.8" x2="79.63" y2="212.8" stroke="#2e2e2e" stroke-width="0.7" />
<line x1="83.21" y1="147.7" x2="83.21" y2="149.7" stroke="#2e2e2e" stroke-width="0.7" />
<line x1="83.21" y1="214.8" x2="83.21" y2="212.8" stroke="#2e2e2e" stroke-width="0.7" />
<line x1="86.32" y1="147.7" x2="86.32" y2="149.7" stroke="#2e2e2e" stroke-width="0.7" />
<line x1="86.32" y1="214.8" x2="86.32" y2="212.8" stroke="#2e2e2e" stroke-width="0.7" />
<line x1="89.05" y1="147.7" x2="89.05" y2="149.7" stroke="#2e2e2e" stroke-width="0.7" />
<line x1="89.05" y1="214.8" x2="89.05" y2="212.8" stroke="#2e2e2e" stroke-width="0.7" />
<line x1="91.5" y1="147.7" x2="91.5" y2="151.7" stroke="#2e2e2e" stroke-width="0.7" />
<line x1="91.5" y1="214.8" x2="91.5" y2="210.8" stroke="#2e2e2e" stroke-width="0.7" />
<line x1="107.61" y1="147.7" x2="107.61" y2="149.7" stroke="#2e2e2e" stroke-width="0.7" />
<line x1="107.61" y1="214.8" x2="107.61" y2="212.8" stroke="#2e2e2e" stroke-width="0.7" />
<line x1="117.03" y1="147.7" x2="117.03" y2="149.7" stroke="#2e2e2e" stroke-width="0.7" />
<line x1="117.03" y1="214.8" x2="117.03" y2="212.8" stroke="#2e2e2e" stroke-width="0.7" />
<line x1="123.71" y1="147.7" x2="123.71" y2="149.7" stroke="#2e2e2e" stroke-width="0.7" />
<line x1="123.71" y1="214.8" x2="123.71" y2="212.8" stroke="#2e2e2e" stroke-width="0.7" />
<line x1="128.89" y1="147.7" x2="128.89" y2="149.7" stroke="#2e2e2e" stroke-width="0.7" />
<line x1="128.89" y1="214.8" x2="128.89" y2="212.8" stroke="#2e2e2e" stroke-width="0.7" />
<line x1="133.13" y1="147.7" x2="133.13" y2="149.7" stroke="#2e2e2e" stroke-width="0.7" />
<line x1="133.13" y1="214.8" x2="133.13" y2="212.8" stroke="#2e2e2e" stroke-width="0.7" />
<line x1="136.71" y1="147.7" x2="136.71" y2="149.7" stroke="#2e2e2e" stroke-width="0.7" />
<line x1="136.71" y1="214.8" x2="136.71" y2="212.8" stroke="#2e2e2e" stroke-width="0.7" />
<line x1="139.82" y1="147.7" x2="139.82" y2="149.7" stroke="#2e2e2e" stroke-width="0.7" />
<line x1="139.82" y1="214.8" x2="139.82" y2="212.8" stroke="#2e2e2e" stroke-width="0.7" />
<line x1="142.55" y1="147.7" x2="142.55" y2="149.7" stroke="#2e2e2e" stroke-width="0.7" />
<line x1="142.55" y1="214.8" x2="142.55" y2="212.8" stroke="#2e2e2e" stroke-width="0.7" />
<line x1="145" y1="147.7" x2="145" y2="151.7" stroke="#2e2e2e" stroke-width="0.7" />
<line x1="145" y1="214.8" x2="145" y2="210.8" stroke="#2e2e2e" stroke-width="0.7" />
<line x1="161.11" y1="147.7" x2="161.11" y2="149.7" stroke="#2e2e2e" stroke-width="0.7" />
<line x1="161.11" y1="214.8" x2="161.11" y2="212.8" stroke="#2e2e2e" stroke-width="0.7" />
<line x1="170.53" y1="147.7" x2="170.53" y2="149.7" stroke="#2e2e2e" stroke-width="0.7" />
<line x1="170.53" y1="214.8" x2="170.53" y2="212.8" stroke="#2e2e2e" stroke-width="0.7" />
<line x1="177.21" y1="147.7" x2="177.21" y2="149.7" stroke="#2e2e2e" stroke-width="0.7" />
<line x1="177.21" y1="214.8" x2="177.21" y2="212.8" stroke="#2e2e2e" stroke-width="0.7" />
<line x1="182.39" y1="147.7" x2="182.39" y2="149.7" stroke="#2e2e2e" stroke-width="0.7" />
<line x1="182.39" y1="214.8" x2="182.39" y2="212.8" stroke="#2e2e2e" stroke-width="0.7" />
<line x1="186.63" y1="147.7" x2="186.63" y2="149.7" stroke="#2e2e2e" stroke-width="0.7" />
<line x1="186.63" y1="214.8" x2="186.63" y2="212.8" stroke="#2e2e2e" stroke-width="0.7" />
<line x1="190.21" y1="147.7" x2="190.21" y2="149.7" stroke="#2e2e2e" stroke-width="0.7" />
<line x1="190.21" y1="214.8" x2="190.21" y2="212.8" stroke="#2e2e2e" stroke-width="0.7" />
<line x1="193.32" y1="147.7" x2="193.32" y2="149.7" stroke="#2e2e2e" stroke-width="0.7" />
<line x1="193.32" y1="214.8" x2="193.32" y2="212.8" stroke="#2e2e2e" stroke-width="0.7" />
<line x1="196.05" y1="147.7" x2="196.05" y2="149.7" stroke="#2e2e2e" stroke-width="0.7" />
<line x1="196.05" y1="214.8" x2="196.05" y2="212.8" stroke="#2e2e2e" stroke-width="0.7" />
<line x1="198.5" y1="147.7" x2="198.5" y2="151.7" stroke="#2e2e2e" stroke-width="0.7" />
<line x1="198.5" y1="214.8" x2="198.5" y2="210.8" stroke="#2e2e2e" stroke-width="0.7" />
<line x1="214.61" y1="147.7" x2="214.61" y2="149.7" stroke="#2e2e2e" stroke-width="0.7" />
<line x1="214.61" y1="214.8" x2="214.61" y2="212.8" stroke="#2e2e2e" stroke-width="0.7" />
<line x1="224.03" y1="147.7" x2="224.03" y2="149.7" stroke="#2e2e2e" stroke-width="0.7" />
<line x1="224.03" y1="214.8" x2="224.03" y2="212.8" stroke="#2e2e2e" stroke-width="0.7" />
<line x1="230.71" y1="147.7" x2="230.71" y2="149.7" stroke="#2e2e2e" stroke-width="0.7" />
<line x1="230.71" y1="214.8" x2="230.71" y2="212.8" stroke="#2e2e2e" stroke-width="0.7" />
<line x1="235.89" y1="147.7" x2="235.89" y2="149.7" stroke="#2e2e2e" stroke-width="0.7" />
<line x1="235.89" y1="214.8" x2="235.89" y2="212.8" stroke="#2e2e2e" stroke-width="0.7" />
<line x1="240.13" y1="147.7" x2="240.13" y2="149.7" stroke="#2e2e2e" stroke-width="0.7" />
<line x1="240.13" y1="214.8" x2="240.13" y2="212.8" stroke="#2e2e2e" stroke-width="0.7" />
<line x1="243.71" y1="147.7" x2="243.71" y2="149.7" stroke="#2e2e2e" stroke-width="0.7" />
<line x1="243.71" y1="214.8" x2="243.71" y2="212.8" stroke="#2e2e2e" stroke-width="0.7" />
<line x1="246.82" y1="147.7" x2="246.82" y2="149.7" stroke="#2e2e2e" stroke-width="0.7" />
<line x1="246.82" y1="214.8" x2="246.82" y2="212.8" stroke="#2e2e2e" stroke-width="0.7" />
<line x1="249.55" y1="147.7" x2="249.55" y2="149.7" stroke="#2e2e2e" stroke-width="0.7" />
<line x1="249.55" y1="214.8" x2="249.55" y2="212.8" stroke="#2e2e2e" stroke-width="0.7" />
<line x1="252" y1="147.7" x2="252" y2="151.7" stroke="#2e2e2e" stroke-width="0.7" />
<line x1="252" y1="214.8" x2="252" y2="210.8" stroke="#2e2e2e" stroke-width="0.7" />
<line x1="268.11" y1="147.7" x2="268.11" y2="149.7" stroke="#2e2e2e" stroke-width="0.7" />
<line x1="268.11" y1="214.8" x2="268.11" y2="212.8" stroke="#2e2e2e" stroke-width="0.7" />
<line x1="277.53" y1="147.7" x2="277.53" y2="149.7" stroke="#2e2e2e" stroke-width="0.7" />
<line x1="277.53" y1="214.8" x2="277.53" y2="212.8" stroke="#2e2e2e" stroke-width="0.7" />
<line x1="284.21" y1="147.7" x2="284.21" y2="149.7" stroke="#2e2e2e" stroke-width="0.7" />
<line x1="284.21" y1="214.8" x2="284.21" y2="212.8" stroke="#2e2e2e" stroke-width="0.7" />
<line x1="289.39" y1="147.7" x2="289.39" y2="149.7" stroke="#2e2e2e" stroke-width="0.7" />
<line x1="289.39" y1="214.8" x2="289.39" y2="212.8" stroke="#2e2e2e" stroke-width="0.7" />
<line x1="293.63" y1="147.7" x2="293.63" y2="149.7" stroke="#2e2e2e" stroke-width="0.7" />
<line x1="293.63" y1="214.8" x2="293.63" y2="212.8" stroke="#2e2e2e" stroke-width="0.7" />
<line x1="297.21" y1="147.7" x2="297.21" y2="149.7" stroke="#2e2e2e" stroke-width="0.7" />
<line x1="297.21" y1="214.8" x2="297.21" y2="212.8" stroke="#2e2e2e" stroke-width="0.7" />
<line x1="300.32" y1="147.7" x2="300.32" y2="149.7" stroke="#2e2e2e" stroke-width="0.7" />
<line x1="300.32" y1="214.8" x2="300.32" y2="212.8" stroke="#2e2e2e" stroke-width="0.7" />
<line x1="303.05" y1="147.7" x2="303.05" y2="149.7" stroke="#2e2e2e" stroke-width="0.7" />
<line x1="303.05" y1="214.8" x2="303.05" y2="212.8" stroke="#2e2e2e" stroke-width="0.7" />
<line x1="305.5" y1="147.7" x2="305.5" y2="151.7" stroke="#2e2e2e" stroke-width="0.7" />
<line x1="305.5" y1="214.8" x2="305.5" y2="210.8" stroke="#2e2e2e" stroke-width="0.7" />
<line x1="38" y1="214.8" x2="38" y2="218.8" stroke="#2e2e2e" stroke-width="0.7" />
<line x1="38" y1="281.9" x2="38" y2="277.9" stroke="#2e2e2e" stroke-width="0.7" />
<line x1="54.11" y1="214.8" x2="54.11" y2="216.8" stroke="#2e2e2e" stroke-width="0.7" />
<line x1="54.11" y1="281.9" x2="54.11" y2="279.9" stroke="#2e2e2e" stroke-width="0.7" />
<line x1="63.53" y1="214.8" x2="63.53" y2="216.8" stroke="#2e2e2e" stroke-width="0.7" />
<line x1="63.53" y1="281.9" x2="63.53" y2="279.9" stroke="#2e2e2e" stroke-width="0.7" />
<line x1="70.21" y1="214.8" x2="70.21" y2="216.8" stroke="#2e2e2e" stroke-width="0.7" />
<line x1="70.21" y1="281.9" x2="70.21" y2="279.9" stroke="#2e2e2e" stroke-width="0.7" />
<line x1="75.39" y1="214.8" x2="75.39" y2="216.8" stroke="#2e2e2e" stroke-width="0.7" />
<line x1="75.39" y1="281.9" x2="75.39" y2="279.9" stroke="#2e2e2e" stroke-width="0.7" />
<line x1="79.63" y1="214.8" x2="79.63" y2="216.8" stroke="#2e2e2e" stroke-width="0.7" />
<line x1="79.63" y1="281.9" x2="79.63" y2="279.9" stroke="#2e2e2e" stroke-width="0.7" />
<line x1="83.21" y1="214.8" x2="83.21" y2="216.8" stroke="#2e2e2e" stroke-width="0.7" />
<line x1="83.21" y1="281.9" x2="83.21" y2="279.9" stroke="#2e2e2e" stroke-width="0.7" />
<line x1="86.32" y1="214.8" x2="86.32" y2="216.8" stroke="#2e2e2e" stroke-width="0.7" />
<line x1="86.32" y1="281.9" x2="86.32" y2="279.9" stroke="#2e2e2e" stroke-width="0.7" />
<line x1="89.05" y1="214.8" x2="89.05" y2="216.8" stroke="#2e2e2e" stroke-width="0.7" />
<line x1="89.05" y1="281.9" x2="89.05" y2="279.9" stroke="#2e2e2e" stroke-width="0.7" />
<line x1="91.5" y1="214.8" x2="91.5" y2="218.8" stroke="#2e2e2e" stroke-width="0.7" />
<line x1="91.5" y1="281.9" x2="91.5" y2="277.9" stroke="#2e2e2e" stroke-width="0.7" />
<line x1="107.61" y1="214.8" x2="107.61" y2="216.8" stroke="#2e2e2e" stroke-width="0.7" />
<line x1="107.61" y1="281.9" x2="107.61" y2="279.9" stroke="#2e2e2e" stroke-width="0.7" />
<line x1="117.03" y1="214.8" x2="117.03" y2="216.8" stroke="#2e2e2e" stroke-width="0.7" />
<line x1="117.03" y1="281.9" x2="117.03" y2="279.9" stroke="#2e2e2e" stroke-width="0.7" />
<line x1="123.71" y1="214.8" x2="123.71" y2="216.8" stroke="#2e2e2e" stroke-width="0.7" />
<line x1="123.71" y1="281.9" x2="123.71" y2="279.9" stroke="#2e2e2e" stroke-width="0.7" />
<line x1="128.89" y1="214.8" x2="128.89" y2="216.8" stroke="#2e2e2e" stroke-width="0.7" />
<line x1="128.89" y1="281.9" x2="128.89" y2="279.9" stroke="#2e2e2e" stroke-width="0.7" />
<line x1="133.13" y1="214.8" x2="133.13" y2="216.8" stroke="#2e2e2e" stroke-width="0.7" />
<line x1="133.13" y1="281.9" x2="133.13" y2="279.9" stroke="#2e2e2e" stroke-width="0.7" />
<line x1="136.71" y1="214.8" x2="136.71" y2="216.8" stroke="#2e2e2e" stroke-width="0.7" />
<line x1="136.71" y1="281.9" x2="136.71" y2="279.9" stroke="#2e2e2e" stroke-width="0.7" />
<line x1="139.82" y1="214.8" x2="139.82" y2="216.8" stroke="#2e2e2e" stroke-width="0.7" />
<line x1="139.82" y1="281.9" x2="139.82" y2="279.9" stroke="#2e2e2e" stroke-width="0.7" />
<line x1="142.55" y1="214.8" x2="142.55" y2="216.8" stroke="#2e2e2e" stroke-width="0.7" />
<line x1="142.55" y1="281.9" x2="142.55" y2="279.9" stroke="#2e2e2e" stroke-width="0.7" />
<line x1="145" y1="214.8" x2="145" y2="218.8" stroke="#2e2e2e" stroke-width="0.7" />
<line x1="145" y1="281.9" x2="145" y2="277.9" stroke="#2e2e2e" stroke-width="0.7" />
<line x1="161.11" y1="214.8" x2="161.11" y2="216.8" stroke="#2e2e2e" stroke-width="0.7" />
<line x1="161.11" y1="281.9" x2="161.11" y2="279.9" stroke="#2e2e2e" stroke-width="0.7" />
<line x1="170.53" y1="214.8" x2="170.53" y2="216.8" stroke="#2e2e2e" stroke-width="0.7" />
<line x1="170.53" y1="281.9" x2="170.53" y2="279.9" stroke="#2e2e2e" stroke-width="0.7" />
<line x1="177.21" y1="214.8" x2="177.21" y2="216.8" stroke="#2e2e2e" stroke-width="0.7" />
<line x1="177.21" y1="281.9" x2="177.21" y2="279.9" stroke="#2e2e2e" stroke-width="0.7" />
<line x1="182.39" y1="214.8" x2="182.39" y2="216.8" stroke="#2e2e2e" stroke-width="0.7" />
<line x1="182.39" y1="281.9" x2="182.39" y2="279.9" stroke="#2e2e2e" stroke-width="0.7" />
<line x1="186.63" y1="214.8" x2="186.63" y2="216.8" stroke="#2e2e2e" stroke-width="0.7" />
<line x1="186.63" y1="281.9" x2="186.63" y2="279.9" stroke="#2e2e2e" stroke-width="0.7" />
<line x1="190.21" y1="214.8" x2="190.21" y2="216.8" stroke="#2e2e2e" stroke-width="0.7" />
<line x1="190.21" y1="281.9" x2="190.21" y2="279.9" stroke="#2e2e2e" stroke-width="0.7" />
<line x1="193.32" y1="214.8" x2="193.32" y2="216.8" stroke="#2e2e2e" stroke-width="0.7" />
<line x1="193.32" y1="281.9" x2="193.32" y2="279.9" stroke="#2e2e2e" stroke-width="0.7" />
<line x1="196.05" y1="214.8" x2="196.05" y2="216.8" stroke="#2e2e2e" stroke-width="0.7" />
<line x1="196.05" y1="281.9" x2="196.05" y2="279.9" stroke="#2e2e2e" stroke-width="0.7" />
<line x1="198.5" y1="214.8" x2="198.5" y2="218.8" stroke="#2e2e2e" stroke-width="0.7" />
<line x1="198.5" y1="281.9" x2="198.5" y2="277.9" stroke="#2e2e2e" stroke-width="0.7" />
<line x1="214.61" y1="214.8" x2="214.61" y2="216.8" stroke="#2e2e2e" stroke-width="0.7" />
<line x1="214.61" y1="281.9" x2="214.61" y2="279.9" stroke="#2e2e2e" stroke-width="0.7" />
<line x1="224.03" y1="214.8" x2="224.03" y2="216.8" stroke="#2e2e2e" stroke-width="0.7" />
<line x1="224.03" y1="281.9" x2="224.03" y2="279.9" stroke="#2e2e2e" stroke-width="0.7" />
<line x1="230.71" y1="214.8" x2="230.71" y2="216.8" stroke="#2e2e2e" stroke-width="0.7" />
<line x1="230.71" y1="281.9" x2="230.71" y2="279.9" stroke="#2e2e2e" stroke-width="0.7" />
<line x1="235.89" y1="214.8" x2="235.89" y2="216.8" stroke="#2e2e2e" stroke-width="0.7" />
<line x1="235.89" y1="281.9" x2="235.89" y2="279.9" stroke="#2e2e2e" stroke-width="0.7" />
<line x1="240.13" y1="214.8" x2="240.13" y2="216.8" stroke="#2e2e2e" stroke-width="0.7" />
<line x1="240.13" y1="281.9" x2="240.13" y2="279.9" stroke="#2e2e2e" stroke-width="0.7" />
<line x1="243.71" y1="214.8" x2="243.71" y2="216.8" stroke="#2e2e2e" stroke-width="0.7" />
<line x1="243.71" y1="281.9" x2="243.71" y2="279.9" stroke="#2e2e2e" stroke-width="0.7" />
<line x1="246.82" y1="214.8" x2="246.82" y2="216.8" stroke="#2e2e2e" stroke-width="0.7" />
<line x1="246.82" y1="281.9" x2="246.82" y2="279.9" stroke="#2e2e2e" stroke-width="0.7" />
<line x1="249.55" y1="214.8" x2="249.55" y2="216.8" stroke="#2e2e2e" stroke-width="0.7" />
<line x1="249.55" y1="281.9" x2="249.55" y2="279.9" stroke="#2e2e2e" stroke-width="0.7" />
<line x1="252" y1="214.8" x2="252" y2="218.8" stroke="#2e2e2e" stroke-width="0.7" />
<line x1="252" y1="281.9" x2="252" y2="277.9" stroke="#2e2e2e" stroke-width="0.7" />
<line x1="268.11" y1="214.8" x2="268.11" y2="216.8" stroke="#2e2e2e" stroke-width="0.7" />
<line x1="268.11" y1="281.9" x2="268.11" y2="279.9" stroke="#2e2e2e" stroke-width="0.7" />
<line x1="277.53" y1="214.8" x2="277.53" y2="216.8" stroke="#2e2e2e" stroke-width="0.7" />
<line x1="277.53" y1="281.9" x2="277.53" y2="279.9" stroke="#2e2e2e" stroke-width="0.7" />
<line x1="284.21" y1="214.8" x2="284.21" y2="216.8" stroke="#2e2e2e" stroke-width="0.7" />
<line x1="284.21" y1="281.9" x2="284.21" y2="279.9" stroke="#2e2e2e" stroke-width="0.7" />
<line x1="289.39" y1="214.8" x2="289.39" y2="216.8" stroke="#2e2e2e" stroke-width="0.7" />
<line x1="289.39" y1="281.9" x2="289.39" y2="279.9" stroke="#2e2e2e" stroke-width="0.7" />
<line x1="293.63" y1="214.8" x2="293.63" y2="216.8" stroke="#2e2e2e" stroke-width="0.7" />
<line x1="293.63" y1="281.9" x2="293.63" y2="279.9" stroke="#2e2e2e" stroke-width="0.7" />
<line x1="297.21" y1="214.8" x2="297.21" y2="216.8" stroke="#2e2e2e" stroke-width="0.7" />
<line x1="297.21" y1="281.9" x2="297.21" y2="279.9" stroke="#2e2e2e" stroke-width="0.7" />
<line x1="300.32" y1="214.8" x2="300.32" y2="216.8" stroke="#2e2e2e" stroke-width="0.7" />
<line x1="300.32" y1="281.9" x2="300.32" y2="279.9" stroke="#2e2e2e" stroke-width="0.7" />
<line x1="303.05" y1="214.8" x2="303.05" y2="216.8" stroke="#2e2e2e" stroke-width="0.7" />
<line x1="303.05" y1="281.9" x2="303.05" y2="279.9" stroke="#2e2e2e" stroke-width="0.7" />
<line x1="305.5" y1="214.8" x2="305.5" y2="218.8" stroke="#2e2e2e" stroke-width="0.7" />
<line x1="305.5" y1="281.9" x2="305.5" y2="277.9" stroke="#2e2e2e" stroke-width="0.7" />
<rect x="38.0" y="13.5" width="267.5" height="268.4" fill="none" stroke="#2e2e2e" stroke-width="1.3"/>
<line x1="38" y1="80.6" x2="305.5" y2="80.6" stroke="#2e2e2e" stroke-width="1.3" />
<line x1="38" y1="147.7" x2="305.5" y2="147.7" stroke="#2e2e2e" stroke-width="1.3" />
<line x1="38" y1="214.8" x2="305.5" y2="214.8" stroke="#2e2e2e" stroke-width="1.3" />
<line x1="38" y1="23.09" x2="42" y2="23.09" stroke="#2e2e2e" stroke-width="0.8" />
<line x1="305.5" y1="23.09" x2="301.5" y2="23.09" stroke="#2e2e2e" stroke-width="0.8" />
<text transform="translate(21.79 25.93) scale(1.0750 1)" font-size="10.563" fill="#111" stroke="#111" stroke-width="0.25">20</text>
<line x1="38" y1="42.26" x2="42" y2="42.26" stroke="#2e2e2e" stroke-width="0.8" />
<line x1="305.5" y1="42.26" x2="301.5" y2="42.26" stroke="#2e2e2e" stroke-width="0.8" />
<text transform="translate(21.74 45.1) scale(1.0750 1)" font-size="10.563" fill="#111" stroke="#111" stroke-width="0.25">24</text>
<line x1="38" y1="61.43" x2="42" y2="61.43" stroke="#2e2e2e" stroke-width="0.8" />
<line x1="305.5" y1="61.43" x2="301.5" y2="61.43" stroke="#2e2e2e" stroke-width="0.8" />
<text transform="translate(21.85 64.27) scale(1.0750 1)" font-size="10.563" fill="#111" stroke="#111" stroke-width="0.25">28</text>
<line x1="38" y1="119.74" x2="42" y2="119.74" stroke="#2e2e2e" stroke-width="0.8" />
<line x1="305.5" y1="119.74" x2="301.5" y2="119.74" stroke="#2e2e2e" stroke-width="0.8" />
<text transform="translate(18.61 122.59) scale(1.0750 1)" font-size="10.563" fill="#111" stroke="#111" stroke-width="0.25">0.0</text>
<line x1="38" y1="97.38" x2="42" y2="97.38" stroke="#2e2e2e" stroke-width="0.8" />
<line x1="305.5" y1="97.38" x2="301.5" y2="97.38" stroke="#2e2e2e" stroke-width="0.8" />
<text transform="translate(18.56 100.22) scale(1.0750 1)" font-size="10.563" fill="#111" stroke="#111" stroke-width="0.25">0.4</text>
<line x1="38" y1="195.63" x2="42" y2="195.63" stroke="#2e2e2e" stroke-width="0.8" />
<line x1="305.5" y1="195.63" x2="301.5" y2="195.63" stroke="#2e2e2e" stroke-width="0.8" />
<text transform="translate(18.61 198.47) scale(1.0750 1)" font-size="10.563" fill="#111" stroke="#111" stroke-width="0.25">0.0</text>
<line x1="38" y1="157.29" x2="42" y2="157.29" stroke="#2e2e2e" stroke-width="0.8" />
<line x1="305.5" y1="157.29" x2="301.5" y2="157.29" stroke="#2e2e2e" stroke-width="0.8" />
<text transform="translate(18.56 160.13) scale(1.0750 1)" font-size="10.563" fill="#111" stroke="#111" stroke-width="0.25">0.4</text>
<line x1="38" y1="262.73" x2="42" y2="262.73" stroke="#2e2e2e" stroke-width="0.8" />
<line x1="305.5" y1="262.73" x2="301.5" y2="262.73" stroke="#2e2e2e" stroke-width="0.8" />
<text transform="translate(18.61 265.57) scale(1.0750 1)" font-size="10.563" fill="#111" stroke="#111" stroke-width="0.25">0.0</text>
<line x1="38" y1="224.39" x2="42" y2="224.39" stroke="#2e2e2e" stroke-width="0.8" />
<line x1="305.5" y1="224.39" x2="301.5" y2="224.39" stroke="#2e2e2e" stroke-width="0.8" />
<text transform="translate(18.56 227.23) scale(1.0750 1)" font-size="10.563" fill="#111" stroke="#111" stroke-width="0.25">0.4</text>
<text transform="translate(13.7 61.61) rotate(-90) scale(1.0569 1)" font-size="14.350" fill="#000" stroke="#000" stroke-width="0.18">Mag</text>
<text transform="translate(11.2 122.97) rotate(-90) scale(1.1491 1)" font-size="14.350" fill="#000" stroke="#000" stroke-width="0.18">i-z</text>
<text transform="translate(11.2 188.79) rotate(-90) scale(1.1722 1)" font-size="14.350" fill="#000" stroke="#000" stroke-width="0.18">r-i</text>
<text transform="translate(11.2 259.2) rotate(-90) scale(1.2143 1)" font-size="14.350" fill="#000" stroke="#000" stroke-width="0.18">g-r</text>
<text transform="translate(29.63 294.49) scale(0.9700 1)" font-size="10.704" fill="#111" stroke="#111" stroke-width="0.25">10</text>
<text transform="translate(41.81 289.83) scale(1.0000 1)" font-size="7.183" fill="#111" stroke="#111" stroke-width="0.15">2</text>
<text transform="translate(83.13 294.49) scale(0.9700 1)" font-size="10.704" fill="#111" stroke="#111" stroke-width="0.25">10</text>
<text transform="translate(95.31 289.83) scale(1.0000 1)" font-size="7.183" fill="#111" stroke="#111" stroke-width="0.15">3</text>
<text transform="translate(136.63 294.49) scale(0.9700 1)" font-size="10.704" fill="#111" stroke="#111" stroke-width="0.25">10</text>
<text transform="translate(148.84 289.83) scale(1.0000 1)" font-size="7.183" fill="#111" stroke="#111" stroke-width="0.15">4</text>
<text transform="translate(190.13 294.49) scale(0.9700 1)" font-size="10.704" fill="#111" stroke="#111" stroke-width="0.25">10</text>
<text transform="translate(202.31 289.83) scale(1.0000 1)" font-size="7.183" fill="#111" stroke="#111" stroke-width="0.15">5</text>
<text transform="translate(243.63 294.49) scale(0.9700 1)" font-size="10.704" fill="#111" stroke="#111" stroke-width="0.25">10</text>
<text transform="translate(255.77 289.83) scale(1.0000 1)" font-size="7.183" fill="#111" stroke="#111" stroke-width="0.15">6</text>
<text transform="translate(297.13 294.49) scale(0.9700 1)" font-size="10.704" fill="#111" stroke="#111" stroke-width="0.25">10</text>
<text transform="translate(309.31 289.83) scale(1.0000 1)" font-size="7.183" fill="#111" stroke="#111" stroke-width="0.15">7</text>
<text transform="translate(134.3 312.7) scale(1.0579 1)" font-size="14.400" fill="#000" stroke="#000" stroke-width="0.15">Times(sec)</text>
<text transform="translate(163.91 8.4) scale(1.0909 1)" font-size="12.000" fill="#000" stroke="#000" stroke-width="0.05">(a)</text>
<defs>
<clipPath id="cb0"><rect x="360.6" y="13.6" width="267.6" height="53.6"/></clipPath>
<clipPath id="cb1"><rect x="360.6" y="67.2" width="267.6" height="53.7"/></clipPath>
<clipPath id="cb2"><rect x="360.6" y="120.9" width="267.6" height="53.599999999999994"/></clipPath>
<clipPath id="cb3"><rect x="360.6" y="174.5" width="267.6" height="53.69999999999999"/></clipPath>
<clipPath id="cb4"><rect x="360.6" y="228.2" width="267.6" height="53.60000000000002"/></clipPath>
</defs>
<g clip-path="url(#cb0)">
<path d="M439.6 67.2V62.1H460.6V62.1H481.6V31.4H502.6V38.4H523.6V54.9H544.6V60.2H565.6V58.4H586.6V65.5H607.6V65.5H628.2V67.2" fill="none" stroke="#ff7878" stroke-width="1.5"/>
<path d="M439.6 67.2V62.1H460.6V62.1H481.6V31.4H502.6V38.4H523.6V54.9H544.6V60.2H565.6V58.4H586.6V65.5H607.6V65.5H628.2V67.2" fill="none" stroke="#f00" stroke-width="1.7" stroke-dasharray="1.4 2.6"/>
<path d="M460.5 67.2V49.1H472.07V41.6H483.64V24.7H495.21V40.3H506.78V57.2H518.35V62.6H529.92V58.4H541.49V63.8H553.06V65.5H564.63V66.4H576.2V62H587.77V62H599.34V67.2" fill="none" stroke="#333" stroke-width="1.0"/>
<polyline points="360.6,67.2 361.6,67.2 362.6,67.2 363.6,67.2 364.6,67.2 365.6,67.2 366.6,67.2 367.6,67.2 368.6,67.2 369.6,67.2 370.6,67.2 371.6,67.2 372.6,67.2 373.6,67.2 374.6,67.2 375.6,67.2 376.6,67.2 377.6,67.2 378.6,67.2 379.6,67.2 380.6,67.2 381.6,67.2 382.6,67.2 383.6,67.2 384.6,67.2 385.6,67.2 386.6,67.2 387.6,67.2 388.6,67.2 389.6,67.2 390.6,67.2 391.6,67.2 392.6,67.2 393.6,67.2 394.6,67.2 395.6,67.2 396.6,67.2 397.6,67.2 398.6,67.2 399.6,67.2 400.6,67.2 401.6,67.2 402.6,67.2 403.6,67.2 404.6,67.2 405.6,67.2 406.6,67.2 407.6,67.2 408.6,67.2 409.6,67.2 410.6,67.2 411.6,67.2 412.6,67.2 413.6,67.2 414.6,67.2 415.6,67.2 416.6,67.2 417.6,67.2 418.6,67.2 419.6,67.2 420.6,67.2 421.6,67.2 422.6,67.2 423.6,67.19 424.6,67.19 425.6,67.19 426.6,67.19 427.6,67.18 428.6,67.18 429.6,67.17 430.6,67.16 431.6,67.15 432.6,67.14 433.6,67.13 434.6,67.11 435.6,67.08 436.6,67.06 437.6,67.02 438.6,66.98 439.6,66.93 440.6,66.87 441.6,66.8 442.6,66.71 443.6,66.61 444.6,66.5 445.6,66.36 446.6,66.19 447.6,66.01 448.6,65.79 449.6,65.54 450.6,65.25 451.6,64.93 452.6,64.56 453.6,64.14 454.6,63.67 455.6,63.15 456.6,62.57 457.6,61.93 458.6,61.22 459.6,60.44 460.6,59.59 461.6,58.68 462.6,57.69 463.6,56.63 464.6,55.5 465.6,54.31 466.6,53.05 467.6,51.73 468.6,50.35 469.6,48.93 470.6,47.47 471.6,45.98 472.6,44.48 473.6,42.96 474.6,41.45 475.6,39.96 476.6,38.5 477.6,37.09 478.6,35.73 479.6,34.45 480.6,33.25 481.6,32.16 482.6,31.18 483.6,30.32 484.6,29.6 485.6,29.02 486.6,28.59 487.6,28.32 488.6,28.2 489.6,28.25 490.6,28.45 491.6,28.81 492.6,29.32 493.6,29.98 494.6,30.78 495.6,31.71 496.6,32.75 497.6,33.9 498.6,35.14 499.6,36.47 500.6,37.86 501.6,39.3 502.6,40.78 503.6,42.28 504.6,43.8 505.6,45.31 506.6,46.81 507.6,48.28 508.6,49.72 509.6,51.11 510.6,52.46 511.6,53.75 512.6,54.97 513.6,56.13 514.6,57.22 515.6,58.24 516.6,59.19 517.6,60.07 518.6,60.88 519.6,61.61 520.6,62.29 521.6,62.9 522.6,63.45 523.6,63.94 524.6,64.38 525.6,64.77 526.6,65.11 527.6,65.42 528.6,65.68 529.6,65.91 530.6,66.11 531.6,66.29 532.6,66.44 533.6,66.56 534.6,66.67 535.6,66.76 536.6,66.84 537.6,66.9 538.6,66.96 539.6,67 540.6,67.04 541.6,67.07 542.6,67.1 543.6,67.12 544.6,67.13 545.6,67.15 546.6,67.16 547.6,67.17 548.6,67.17 549.6,67.18 550.6,67.18 551.6,67.19 552.6,67.19 553.6,67.19 554.6,67.19 555.6,67.2 556.6,67.2 557.6,67.2 558.6,67.2 559.6,67.2 560.6,67.2 561.6,67.2 562.6,67.2 563.6,67.2 564.6,67.2 565.6,67.2 566.6,67.2 567.6,67.2 568.6,67.2 569.6,67.2 570.6,67.2 571.6,67.2 572.6,67.2 573.6,67.2 574.6,67.2 575.6,67.2 576.6,67.2 577.6,67.2 578.6,67.2 579.6,67.2 580.6,67.2 581.6,67.2 582.6,67.2 583.6,67.2 584.6,67.2 585.6,67.2 586.6,67.2 587.6,67.2 588.6,67.2 589.6,67.2 590.6,67.2 591.6,67.2 592.6,67.2 593.6,67.2 594.6,67.2 595.6,67.2 596.6,67.2 597.6,67.2 598.6,67.2 599.6,67.2 600.6,67.2 601.6,67.2 602.6,67.2 603.6,67.2 604.6,67.2 605.6,67.2 606.6,67.2 607.6,67.2 608.6,67.2 609.6,67.2 610.6,67.2 611.6,67.2 612.6,67.2 613.6,67.2 614.6,67.2 615.6,67.2 616.6,67.2 617.6,67.2 618.6,67.2 619.6,67.2 620.6,67.2 621.6,67.2 622.6,67.2 623.6,67.2 624.6,67.2 625.6,67.2 626.6,67.2 627.6,67.2" fill="none" stroke="#111" stroke-width="1.1"/>
</g>
<g clip-path="url(#cb1)">
<path d="M409.8 120.9V118.8H423.3V120.9H436.8V118.8H450.3V118.8H463.8V105.5H477.3V107.9H490.8V71.4H504.3V110H517.8V119.4H531.3V114.1H544.8V120.9H558.3V118.6H571.8V120.9" fill="none" stroke="#ff7878" stroke-width="1.5"/>
<path d="M409.8 120.9V118.8H423.3V120.9H436.8V118.8H450.3V118.8H463.8V105.5H477.3V107.9H490.8V71.4H504.3V110H517.8V119.4H531.3V114.1H544.8V120.9H558.3V118.6H571.8V120.9" fill="none" stroke="#f00" stroke-width="1.7" stroke-dasharray="1.4 2.6"/>
<path d="M459.8 120.9V107.4H472.7V80H485.6V104.5H498.5V108.8H511.4V119.8H524.3V120.9" fill="none" stroke="#333" stroke-width="1.0"/>
<polyline points="360.6,120.9 361.6,120.9 362.6,120.9 363.6,120.9 364.6,120.9 365.6,120.9 366.6,120.9 367.6,120.9 368.6,120.9 369.6,120.9 370.6,120.9 371.6,120.9 372.6,120.9 373.6,120.9 374.6,120.9 375.6,120.9 376.6,120.9 377.6,120.9 378.6,120.9 379.6,120.9 380.6,120.9 381.6,120.9 382.6,120.9 383.6,120.9 384.6,120.9 385.6,120.9 386.6,120.9 387.6,120.9 388.6,120.9 389.6,120.9 390.6,120.9 391.6,120.9 392.6,120.9 393.6,120.9 394.6,120.9 395.6,120.9 396.6,120.9 397.6,120.9 398.6,120.9 399.6,120.9 400.6,120.9 401.6,120.9 402.6,120.9 403.6,120.9 404.6,120.9 405.6,120.9 406.6,120.9 407.6,120.9 408.6,120.9 409.6,120.9 410.6,120.9 411.6,120.9 412.6,120.9 413.6,120.9 414.6,120.9 415.6,120.9 416.6,120.9 417.6,120.9 418.6,120.9 419.6,120.9 420.6,120.9 421.6,120.9 422.6,120.9 423.6,120.9 424.6,120.9 425.6,120.9 426.6,120.9 427.6,120.9 428.6,120.9 429.6,120.9 430.6,120.9 431.6,120.9 432.6,120.9 433.6,120.9 434.6,120.9 435.6,120.9 436.6,120.9 437.6,120.9 438.6,120.89 439.6,120.89 440.6,120.89 441.6,120.88 442.6,120.87 443.6,120.86 444.6,120.84 445.6,120.82 446.6,120.78 447.6,120.74 448.6,120.68 449.6,120.59 450.6,120.48 451.6,120.34 452.6,120.15 453.6,119.91 454.6,119.61 455.6,119.23 456.6,118.76 457.6,118.18 458.6,117.49 459.6,116.66 460.6,115.68 461.6,114.54 462.6,113.22 463.6,111.72 464.6,110.05 465.6,108.19 466.6,106.16 467.6,103.97 468.6,101.65 469.6,99.23 470.6,96.75 471.6,94.25 472.6,91.78 473.6,89.4 474.6,87.16 475.6,85.12 476.6,83.33 477.6,81.84 478.6,80.69 479.6,79.91 480.6,79.54 481.6,79.57 482.6,80.01 483.6,80.85 484.6,82.05 485.6,83.59 486.6,85.43 487.6,87.51 488.6,89.78 489.6,92.18 490.6,94.65 491.6,97.15 492.6,99.63 493.6,102.03 494.6,104.33 495.6,106.49 496.6,108.5 497.6,110.33 498.6,111.98 499.6,113.44 500.6,114.73 501.6,115.85 502.6,116.8 503.6,117.61 504.6,118.28 505.6,118.84 506.6,119.29 507.6,119.66 508.6,119.95 509.6,120.18 510.6,120.36 511.6,120.5 512.6,120.61 513.6,120.69 514.6,120.75 515.6,120.79 516.6,120.82 517.6,120.85 518.6,120.86 519.6,120.87 520.6,120.88 521.6,120.89 522.6,120.89 523.6,120.89 524.6,120.9 525.6,120.9 526.6,120.9 527.6,120.9 528.6,120.9 529.6,120.9 530.6,120.9 531.6,120.9 532.6,120.9 533.6,120.9 534.6,120.9 535.6,120.9 536.6,120.9 537.6,120.9 538.6,120.9 539.6,120.9 540.6,120.9 541.6,120.9 542.6,120.9 543.6,120.9 544.6,120.9 545.6,120.9 546.6,120.9 547.6,120.9 548.6,120.9 549.6,120.9 550.6,120.9 551.6,120.9 552.6,120.9 553.6,120.9 554.6,120.9 555.6,120.9 556.6,120.9 557.6,120.9 558.6,120.9 559.6,120.9 560.6,120.9 561.6,120.9 562.6,120.9 563.6,120.9 564.6,120.9 565.6,120.9 566.6,120.9 567.6,120.9 568.6,120.9 569.6,120.9 570.6,120.9 571.6,120.9 572.6,120.9 573.6,120.9 574.6,120.9 575.6,120.9 576.6,120.9 577.6,120.9 578.6,120.9 579.6,120.9 580.6,120.9 581.6,120.9 582.6,120.9 583.6,120.9 584.6,120.9 585.6,120.9 586.6,120.9 587.6,120.9 588.6,120.9 589.6,120.9 590.6,120.9 591.6,120.9 592.6,120.9 593.6,120.9 594.6,120.9 595.6,120.9 596.6,120.9 597.6,120.9 598.6,120.9 599.6,120.9 600.6,120.9 601.6,120.9 602.6,120.9 603.6,120.9 604.6,120.9 605.6,120.9 606.6,120.9 607.6,120.9 608.6,120.9 609.6,120.9 610.6,120.9 611.6,120.9 612.6,120.9 613.6,120.9 614.6,120.9 615.6,120.9 616.6,120.9 617.6,120.9 618.6,120.9 619.6,120.9 620.6,120.9 621.6,120.9 622.6,120.9 623.6,120.9 624.6,120.9 625.6,120.9 626.6,120.9 627.6,120.9" fill="none" stroke="#111" stroke-width="1.1"/>
</g>
<g clip-path="url(#cb2)">
<path d="M360.6 174.5V174.5H369.2V171.1H391.1V171.1H413V167.5H434.9V156.6H456.8V145.8H478.7V138.5H500.6V163.3H522.5V163.3H544.4V167.5H566.3V171.4H588.2V174.5H610.1V171.4H632V174.5" fill="none" stroke="#ff7878" stroke-width="1.5"/>
<path d="M360.6 174.5V174.5H369.2V171.1H391.1V171.1H413V167.5H434.9V156.6H456.8V145.8H478.7V138.5H500.6V163.3H522.5V163.3H544.4V167.5H566.3V171.4H588.2V174.5H610.1V171.4H632V174.5" fill="none" stroke="#f00" stroke-width="1.7" stroke-dasharray="1.4 2.6"/>
<path d="M448.4 174.5V173.6H460.5V163H472.6V143.1H484.7V132H496.8V162.4H508.9V171.1H521V174.5" fill="none" stroke="#333" stroke-width="1.0"/>
<polyline points="360.6,174.5 361.6,174.5 362.6,174.5 363.6,174.5 364.6,174.5 365.6,174.5 366.6,174.5 367.6,174.5 368.6,174.5 369.6,174.5 370.6,174.5 371.6,174.5 372.6,174.5 373.6,174.5 374.6,174.5 375.6,174.5 376.6,174.5 377.6,174.5 378.6,174.5 379.6,174.5 380.6,174.5 381.6,174.5 382.6,174.5 383.6,174.5 384.6,174.5 385.6,174.5 386.6,174.5 387.6,174.5 388.6,174.5 389.6,174.5 390.6,174.5 391.6,174.5 392.6,174.5 393.6,174.5 394.6,174.5 395.6,174.5 396.6,174.5 397.6,174.5 398.6,174.5 399.6,174.5 400.6,174.5 401.6,174.5 402.6,174.5 403.6,174.5 404.6,174.5 405.6,174.5 406.6,174.5 407.6,174.5 408.6,174.5 409.6,174.5 410.6,174.5 411.6,174.5 412.6,174.5 413.6,174.5 414.6,174.5 415.6,174.5 416.6,174.5 417.6,174.5 418.6,174.5 419.6,174.5 420.6,174.5 421.6,174.5 422.6,174.5 423.6,174.5 424.6,174.5 425.6,174.5 426.6,174.5 427.6,174.5 428.6,174.5 429.6,174.5 430.6,174.5 431.6,174.5 432.6,174.5 433.6,174.5 434.6,174.5 435.6,174.5 436.6,174.5 437.6,174.5 438.6,174.5 439.6,174.49 440.6,174.49 441.6,174.49 442.6,174.48 443.6,174.47 444.6,174.46 445.6,174.45 446.6,174.43 447.6,174.41 448.6,174.37 449.6,174.33 450.6,174.27 451.6,174.19 452.6,174.09 453.6,173.96 454.6,173.8 455.6,173.6 456.6,173.35 457.6,173.04 458.6,172.67 459.6,172.22 460.6,171.67 461.6,171.03 462.6,170.28 463.6,169.4 464.6,168.38 465.6,167.23 466.6,165.93 467.6,164.47 468.6,162.86 469.6,161.1 470.6,159.2 471.6,157.17 472.6,155.03 473.6,152.8 474.6,150.5 475.6,148.18 476.6,145.86 477.6,143.59 478.6,141.4 479.6,139.35 480.6,137.46 481.6,135.79 482.6,134.36 483.6,133.22 484.6,132.38 485.6,131.87 486.6,131.7 487.6,131.87 488.6,132.39 489.6,133.23 490.6,134.37 491.6,135.8 492.6,137.48 493.6,139.37 494.6,141.42 495.6,143.61 496.6,145.88 497.6,148.2 498.6,150.53 499.6,152.82 500.6,155.05 501.6,157.19 502.6,159.22 503.6,161.12 504.6,162.88 505.6,164.49 506.6,165.94 507.6,167.24 508.6,168.4 509.6,169.41 510.6,170.28 511.6,171.04 512.6,171.68 513.6,172.22 514.6,172.67 515.6,173.05 516.6,173.35 517.6,173.6 518.6,173.8 519.6,173.96 520.6,174.09 521.6,174.19 522.6,174.27 523.6,174.33 524.6,174.37 525.6,174.41 526.6,174.43 527.6,174.45 528.6,174.46 529.6,174.47 530.6,174.48 531.6,174.49 532.6,174.49 533.6,174.49 534.6,174.5 535.6,174.5 536.6,174.5 537.6,174.5 538.6,174.5 539.6,174.5 540.6,174.5 541.6,174.5 542.6,174.5 543.6,174.5 544.6,174.5 545.6,174.5 546.6,174.5 547.6,174.5 548.6,174.5 549.6,174.5 550.6,174.5 551.6,174.5 552.6,174.5 553.6,174.5 554.6,174.5 555.6,174.5 556.6,174.5 557.6,174.5 558.6,174.5 559.6,174.5 560.6,174.5 561.6,174.5 562.6,174.5 563.6,174.5 564.6,174.5 565.6,174.5 566.6,174.5 567.6,174.5 568.6,174.5 569.6,174.5 570.6,174.5 571.6,174.5 572.6,174.5 573.6,174.5 574.6,174.5 575.6,174.5 576.6,174.5 577.6,174.5 578.6,174.5 579.6,174.5 580.6,174.5 581.6,174.5 582.6,174.5 583.6,174.5 584.6,174.5 585.6,174.5 586.6,174.5 587.6,174.5 588.6,174.5 589.6,174.5 590.6,174.5 591.6,174.5 592.6,174.5 593.6,174.5 594.6,174.5 595.6,174.5 596.6,174.5 597.6,174.5 598.6,174.5 599.6,174.5 600.6,174.5 601.6,174.5 602.6,174.5 603.6,174.5 604.6,174.5 605.6,174.5 606.6,174.5 607.6,174.5 608.6,174.5 609.6,174.5 610.6,174.5 611.6,174.5 612.6,174.5 613.6,174.5 614.6,174.5 615.6,174.5 616.6,174.5 617.6,174.5 618.6,174.5 619.6,174.5 620.6,174.5 621.6,174.5 622.6,174.5 623.6,174.5 624.6,174.5 625.6,174.5 626.6,174.5 627.6,174.5" fill="none" stroke="#111" stroke-width="1.1"/>
</g>
<g clip-path="url(#cb3)">
<path d="M464.2 228.2V221.7H474.55V214.7H484.9V228.2H495.25V214.7H505.6V187.7H515.95V228.2H526.3V221.7H536.65V228.2H547V228.2H557.35V228.2H567.7V221.7H578.05V221.7H588.4V228.2" fill="none" stroke="#ff7878" stroke-width="1.5"/>
<path d="M464.2 228.2V221.7H474.55V214.7H484.9V228.2H495.25V214.7H505.6V187.7H515.95V228.2H526.3V221.7H536.65V228.2H547V228.2H557.35V228.2H567.7V221.7H578.05V221.7H588.4V228.2" fill="none" stroke="#f00" stroke-width="1.7" stroke-dasharray="1.4 2.6"/>
<path d="M408.6 228.2V227.4H420.9V227.1H433.2V226.6H445.5V228.2H457.8V226.9H470.1V216.8H482.4V197.4H494.7V185.3H507V210.7H519.3V223.2H531.6V223.9H543.9V226.4H556.2V227.4H568.5V227.4H580.8V228.2" fill="none" stroke="#333" stroke-width="1.0"/>
<polyline points="360.6,228.2 361.6,228.2 362.6,228.2 363.6,228.2 364.6,228.2 365.6,228.2 366.6,228.2 367.6,228.2 368.6,228.2 369.6,228.2 370.6,228.2 371.6,228.2 372.6,228.2 373.6,228.2 374.6,228.2 375.6,228.2 376.6,228.2 377.6,228.2 378.6,228.2 379.6,228.2 380.6,228.2 381.6,228.2 382.6,228.2 383.6,228.2 384.6,228.2 385.6,228.2 386.6,228.2 387.6,228.2 388.6,228.2 389.6,228.2 390.6,228.2 391.6,228.2 392.6,228.2 393.6,228.2 394.6,228.2 395.6,228.2 396.6,228.2 397.6,228.2 398.6,228.2 399.6,228.2 400.6,228.2 401.6,228.2 402.6,228.2 403.6,228.2 404.6,228.2 405.6,228.2 406.6,228.2 407.6,228.2 408.6,228.2 409.6,228.2 410.6,228.2 411.6,228.2 412.6,228.2 413.6,228.2 414.6,228.2 415.6,228.2 416.6,228.2 417.6,228.2 418.6,228.2 419.6,228.2 420.6,228.2 421.6,228.2 422.6,228.2 423.6,228.2 424.6,228.2 425.6,228.2 426.6,228.2 427.6,228.2 428.6,228.2 429.6,228.2 430.6,228.2 431.6,228.2 432.6,228.2 433.6,228.2 434.6,228.2 435.6,228.2 436.6,228.2 437.6,228.2 438.6,228.2 439.6,228.2 440.6,228.2 441.6,228.2 442.6,228.2 443.6,228.2 444.6,228.2 445.6,228.19 446.6,228.19 447.6,228.19 448.6,228.19 449.6,228.18 450.6,228.17 451.6,228.16 452.6,228.15 453.6,228.13 454.6,228.11 455.6,228.08 456.6,228.05 457.6,228 458.6,227.94 459.6,227.86 460.6,227.76 461.6,227.64 462.6,227.49 463.6,227.31 464.6,227.09 465.6,226.82 466.6,226.49 467.6,226.11 468.6,225.65 469.6,225.12 470.6,224.49 471.6,223.78 472.6,222.95 473.6,222.02 474.6,220.97 475.6,219.79 476.6,218.49 477.6,217.07 478.6,215.51 479.6,213.84 480.6,212.05 481.6,210.16 482.6,208.18 483.6,206.14 484.6,204.04 485.6,201.93 486.6,199.81 487.6,197.73 488.6,195.71 489.6,193.79 490.6,192 491.6,190.36 492.6,188.91 493.6,187.68 494.6,186.69 495.6,185.95 496.6,185.49 497.6,185.3 498.6,185.4 499.6,185.79 500.6,186.45 501.6,187.37 502.6,188.53 503.6,189.92 504.6,191.5 505.6,193.25 506.6,195.14 507.6,197.14 508.6,199.2 509.6,201.31 510.6,203.43 511.6,205.53 512.6,207.6 513.6,209.6 514.6,211.51 515.6,213.33 516.6,215.04 517.6,216.63 518.6,218.09 519.6,219.43 520.6,220.64 521.6,221.73 522.6,222.7 523.6,223.55 524.6,224.3 525.6,224.95 526.6,225.5 527.6,225.98 528.6,226.39 529.6,226.73 530.6,227.01 531.6,227.25 532.6,227.44 533.6,227.6 534.6,227.73 535.6,227.83 536.6,227.92 537.6,227.98 538.6,228.03 539.6,228.07 540.6,228.1 541.6,228.13 542.6,228.15 543.6,228.16 544.6,228.17 545.6,228.18 546.6,228.18 547.6,228.19 548.6,228.19 549.6,228.19 550.6,228.2 551.6,228.2 552.6,228.2 553.6,228.2 554.6,228.2 555.6,228.2 556.6,228.2 557.6,228.2 558.6,228.2 559.6,228.2 560.6,228.2 561.6,228.2 562.6,228.2 563.6,228.2 564.6,228.2 565.6,228.2 566.6,228.2 567.6,228.2 568.6,228.2 569.6,228.2 570.6,228.2 571.6,228.2 572.6,228.2 573.6,228.2 574.6,228.2 575.6,228.2 576.6,228.2 577.6,228.2 578.6,228.2 579.6,228.2 580.6,228.2 581.6,228.2 582.6,228.2 583.6,228.2 584.6,228.2 585.6,228.2 586.6,228.2 587.6,228.2 588.6,228.2 589.6,228.2 590.6,228.2 591.6,228.2 592.6,228.2 593.6,228.2 594.6,228.2 595.6,228.2 596.6,228.2 597.6,228.2 598.6,228.2 599.6,228.2 600.6,228.2 601.6,228.2 602.6,228.2 603.6,228.2 604.6,228.2 605.6,228.2 606.6,228.2 607.6,228.2 608.6,228.2 609.6,228.2 610.6,228.2 611.6,228.2 612.6,228.2 613.6,228.2 614.6,228.2 615.6,228.2 616.6,228.2 617.6,228.2 618.6,228.2 619.6,228.2 620.6,228.2 621.6,228.2 622.6,228.2 623.6,228.2 624.6,228.2 625.6,228.2 626.6,228.2 627.6,228.2" fill="none" stroke="#111" stroke-width="1.1"/>
</g>
<g clip-path="url(#cb4)">
<path d="M424.9 281.8V254.9H450.3V273H475.7V254.9H501.1V245.9H526.5V281.8" fill="none" stroke="#ff7878" stroke-width="1.5"/>
<path d="M424.9 281.8V254.9H450.3V273H475.7V254.9H501.1V245.9H526.5V281.8" fill="none" stroke="#f00" stroke-width="1.7" stroke-dasharray="1.4 2.6"/>
<path d="M435.4 281.8V280.7H447.4V279.4H459.4V275.4H471.4V261H483.4V244.4H495.4V239.3H507.4V253.3H519.4V265H531.4V276.1H543.4V278H555.4V281.8" fill="none" stroke="#333" stroke-width="1.0"/>
<polyline points="360.6,281.8 361.6,281.8 362.6,281.8 363.6,281.8 364.6,281.8 365.6,281.8 366.6,281.8 367.6,281.8 368.6,281.8 369.6,281.8 370.6,281.8 371.6,281.8 372.6,281.8 373.6,281.8 374.6,281.8 375.6,281.8 376.6,281.8 377.6,281.8 378.6,281.8 379.6,281.8 380.6,281.8 381.6,281.8 382.6,281.8 383.6,281.8 384.6,281.8 385.6,281.8 386.6,281.8 387.6,281.8 388.6,281.8 389.6,281.8 390.6,281.8 391.6,281.8 392.6,281.8 393.6,281.8 394.6,281.8 395.6,281.8 396.6,281.8 397.6,281.8 398.6,281.8 399.6,281.8 400.6,281.8 401.6,281.8 402.6,281.8 403.6,281.8 404.6,281.8 405.6,281.8 406.6,281.8 407.6,281.8 408.6,281.8 409.6,281.8 410.6,281.8 411.6,281.8 412.6,281.8 413.6,281.8 414.6,281.8 415.6,281.8 416.6,281.8 417.6,281.8 418.6,281.8 419.6,281.79 420.6,281.79 421.6,281.79 422.6,281.79 423.6,281.79 424.6,281.78 425.6,281.78 426.6,281.78 427.6,281.77 428.6,281.76 429.6,281.76 430.6,281.75 431.6,281.74 432.6,281.72 433.6,281.71 434.6,281.69 435.6,281.67 436.6,281.64 437.6,281.61 438.6,281.58 439.6,281.53 440.6,281.49 441.6,281.43 442.6,281.36 443.6,281.29 444.6,281.2 445.6,281.11 446.6,280.99 447.6,280.87 448.6,280.72 449.6,280.56 450.6,280.37 451.6,280.16 452.6,279.93 453.6,279.67 454.6,279.38 455.6,279.06 456.6,278.7 457.6,278.31 458.6,277.88 459.6,277.4 460.6,276.89 461.6,276.33 462.6,275.72 463.6,275.06 464.6,274.35 465.6,273.59 466.6,272.78 467.6,271.92 468.6,271 469.6,270.03 470.6,269.01 471.6,267.94 472.6,266.82 473.6,265.66 474.6,264.45 475.6,263.21 476.6,261.93 477.6,260.63 478.6,259.3 479.6,257.95 480.6,256.59 481.6,255.23 482.6,253.88 483.6,252.54 484.6,251.21 485.6,249.92 486.6,248.67 487.6,247.46 488.6,246.3 489.6,245.21 490.6,244.19 491.6,243.25 492.6,242.4 493.6,241.64 494.6,240.97 495.6,240.42 496.6,239.97 497.6,239.63 498.6,239.41 499.6,239.31 500.6,239.32 501.6,239.46 502.6,239.71 503.6,240.07 504.6,240.55 505.6,241.13 506.6,241.82 507.6,242.6 508.6,243.48 509.6,244.44 510.6,245.48 511.6,246.59 512.6,247.75 513.6,248.98 514.6,250.24 515.6,251.54 516.6,252.87 517.6,254.22 518.6,255.57 519.6,256.93 520.6,258.29 521.6,259.63 522.6,260.95 523.6,262.25 524.6,263.52 525.6,264.76 526.6,265.95 527.6,267.11 528.6,268.21 529.6,269.27 530.6,270.28 531.6,271.23 532.6,272.14 533.6,272.99 534.6,273.79 535.6,274.53 536.6,275.23 537.6,275.87 538.6,276.47 539.6,277.02 540.6,277.53 541.6,277.99 542.6,278.41 543.6,278.79 544.6,279.14 545.6,279.45 546.6,279.74 547.6,279.99 548.6,280.22 549.6,280.42 550.6,280.6 551.6,280.76 552.6,280.9 553.6,281.02 554.6,281.13 555.6,281.23 556.6,281.31 557.6,281.38 558.6,281.44 559.6,281.5 560.6,281.54 561.6,281.58 562.6,281.62 563.6,281.65 564.6,281.67 565.6,281.69 566.6,281.71 567.6,281.73 568.6,281.74 569.6,281.75 570.6,281.76 571.6,281.77 572.6,281.77 573.6,281.78 574.6,281.78 575.6,281.79 576.6,281.79 577.6,281.79 578.6,281.79 579.6,281.79 580.6,281.79 581.6,281.8 582.6,281.8 583.6,281.8 584.6,281.8 585.6,281.8 586.6,281.8 587.6,281.8 588.6,281.8 589.6,281.8 590.6,281.8 591.6,281.8 592.6,281.8 593.6,281.8 594.6,281.8 595.6,281.8 596.6,281.8 597.6,281.8 598.6,281.8 599.6,281.8 600.6,281.8 601.6,281.8 602.6,281.8 603.6,281.8 604.6,281.8 605.6,281.8 606.6,281.8 607.6,281.8 608.6,281.8 609.6,281.8 610.6,281.8 611.6,281.8 612.6,281.8 613.6,281.8 614.6,281.8 615.6,281.8 616.6,281.8 617.6,281.8 618.6,281.8 619.6,281.8 620.6,281.8 621.6,281.8 622.6,281.8 623.6,281.8 624.6,281.8 625.6,281.8 626.6,281.8 627.6,281.8" fill="none" stroke="#111" stroke-width="1.1"/>
</g>
<rect x="360.6" y="13.6" width="267.6" height="268.2" fill="none" stroke="#2e2e2e" stroke-width="1.1"/>
<line x1="360.6" y1="67.2" x2="628.2" y2="67.2" stroke="#2e2e2e" stroke-width="1.1" />
<line x1="360.6" y1="120.9" x2="628.2" y2="120.9" stroke="#2e2e2e" stroke-width="1.1" />
<line x1="360.6" y1="174.5" x2="628.2" y2="174.5" stroke="#2e2e2e" stroke-width="1.1" />
<line x1="360.6" y1="228.2" x2="628.2" y2="228.2" stroke="#2e2e2e" stroke-width="1.1" />
<line x1="416.35" y1="13.6" x2="416.35" y2="16.6" stroke="#2e2e2e" stroke-width="0.6" />
<line x1="416.35" y1="67.2" x2="416.35" y2="64.2" stroke="#2e2e2e" stroke-width="0.6" />
<line x1="472.1" y1="13.6" x2="472.1" y2="16.6" stroke="#2e2e2e" stroke-width="0.6" />
<line x1="472.1" y1="67.2" x2="472.1" y2="64.2" stroke="#2e2e2e" stroke-width="0.6" />
<line x1="527.85" y1="13.6" x2="527.85" y2="16.6" stroke="#2e2e2e" stroke-width="0.6" />
<line x1="527.85" y1="67.2" x2="527.85" y2="64.2" stroke="#2e2e2e" stroke-width="0.6" />
<line x1="583.6" y1="13.6" x2="583.6" y2="16.6" stroke="#2e2e2e" stroke-width="0.6" />
<line x1="583.6" y1="67.2" x2="583.6" y2="64.2" stroke="#2e2e2e" stroke-width="0.6" />
<line x1="416.35" y1="67.2" x2="416.35" y2="70.2" stroke="#2e2e2e" stroke-width="0.6" />
<line x1="416.35" y1="120.9" x2="416.35" y2="117.9" stroke="#2e2e2e" stroke-width="0.6" />
<line x1="472.1" y1="67.2" x2="472.1" y2="70.2" stroke="#2e2e2e" stroke-width="0.6" />
<line x1="472.1" y1="120.9" x2="472.1" y2="117.9" stroke="#2e2e2e" stroke-width="0.6" />
<line x1="527.85" y1="67.2" x2="527.85" y2="70.2" stroke="#2e2e2e" stroke-width="0.6" />
<line x1="527.85" y1="120.9" x2="527.85" y2="117.9" stroke="#2e2e2e" stroke-width="0.6" />
<line x1="583.6" y1="67.2" x2="583.6" y2="70.2" stroke="#2e2e2e" stroke-width="0.6" />
<line x1="583.6" y1="120.9" x2="583.6" y2="117.9" stroke="#2e2e2e" stroke-width="0.6" />
<line x1="416.35" y1="120.9" x2="416.35" y2="123.9" stroke="#2e2e2e" stroke-width="0.6" />
<line x1="416.35" y1="174.5" x2="416.35" y2="171.5" stroke="#2e2e2e" stroke-width="0.6" />
<line x1="472.1" y1="120.9" x2="472.1" y2="123.9" stroke="#2e2e2e" stroke-width="0.6" />
<line x1="472.1" y1="174.5" x2="472.1" y2="171.5" stroke="#2e2e2e" stroke-width="0.6" />
<line x1="527.85" y1="120.9" x2="527.85" y2="123.9" stroke="#2e2e2e" stroke-width="0.6" />
<line x1="527.85" y1="174.5" x2="527.85" y2="171.5" stroke="#2e2e2e" stroke-width="0.6" />
<line x1="583.6" y1="120.9" x2="583.6" y2="123.9" stroke="#2e2e2e" stroke-width="0.6" />
<line x1="583.6" y1="174.5" x2="583.6" y2="171.5" stroke="#2e2e2e" stroke-width="0.6" />
<line x1="416.35" y1="174.5" x2="416.35" y2="177.5" stroke="#2e2e2e" stroke-width="0.6" />
<line x1="416.35" y1="228.2" x2="416.35" y2="225.2" stroke="#2e2e2e" stroke-width="0.6" />
<line x1="472.1" y1="174.5" x2="472.1" y2="177.5" stroke="#2e2e2e" stroke-width="0.6" />
<line x1="472.1" y1="228.2" x2="472.1" y2="225.2" stroke="#2e2e2e" stroke-width="0.6" />
<line x1="527.85" y1="174.5" x2="527.85" y2="177.5" stroke="#2e2e2e" stroke-width="0.6" />
<line x1="527.85" y1="228.2" x2="527.85" y2="225.2" stroke="#2e2e2e" stroke-width="0.6" />
<line x1="583.6" y1="174.5" x2="583.6" y2="177.5" stroke="#2e2e2e" stroke-width="0.6" />
<line x1="583.6" y1="228.2" x2="583.6" y2="225.2" stroke="#2e2e2e" stroke-width="0.6" />
<line x1="416.35" y1="228.2" x2="416.35" y2="231.2" stroke="#2e2e2e" stroke-width="0.6" />
<line x1="416.35" y1="281.8" x2="416.35" y2="278.8" stroke="#2e2e2e" stroke-width="0.6" />
<line x1="472.1" y1="228.2" x2="472.1" y2="231.2" stroke="#2e2e2e" stroke-width="0.6" />
<line x1="472.1" y1="281.8" x2="472.1" y2="278.8" stroke="#2e2e2e" stroke-width="0.6" />
<line x1="527.85" y1="228.2" x2="527.85" y2="231.2" stroke="#2e2e2e" stroke-width="0.6" />
<line x1="527.85" y1="281.8" x2="527.85" y2="278.8" stroke="#2e2e2e" stroke-width="0.6" />
<line x1="583.6" y1="228.2" x2="583.6" y2="231.2" stroke="#2e2e2e" stroke-width="0.6" />
<line x1="583.6" y1="281.8" x2="583.6" y2="278.8" stroke="#2e2e2e" stroke-width="0.6" />
<line x1="360.6" y1="67.2" x2="363.6" y2="67.2" stroke="#2e2e2e" stroke-width="0.6" />
<text transform="translate(353.36 69.32) scale(0.9500 1)" font-size="8.169" fill="#111" stroke="#111" stroke-width="0.2">0</text>
<line x1="360.6" y1="40" x2="363.6" y2="40" stroke="#2e2e2e" stroke-width="0.6" />
<text transform="translate(344.75 42.12) scale(0.9500 1)" font-size="8.169" fill="#111" stroke="#111" stroke-width="0.2">200</text>
<line x1="360.6" y1="120.9" x2="363.6" y2="120.9" stroke="#2e2e2e" stroke-width="0.6" />
<text transform="translate(353.36 123.02) scale(0.9500 1)" font-size="8.169" fill="#111" stroke="#111" stroke-width="0.2">0</text>
<line x1="360.6" y1="97.6" x2="363.6" y2="97.6" stroke="#2e2e2e" stroke-width="0.6" />
<text transform="translate(344.75 99.72) scale(0.9500 1)" font-size="8.169" fill="#111" stroke="#111" stroke-width="0.2">300</text>
<line x1="360.6" y1="174.5" x2="363.6" y2="174.5" stroke="#2e2e2e" stroke-width="0.6" />
<text transform="translate(353.36 176.62) scale(0.9500 1)" font-size="8.169" fill="#111" stroke="#111" stroke-width="0.2">0</text>
<line x1="360.6" y1="152.7" x2="363.6" y2="152.7" stroke="#2e2e2e" stroke-width="0.6" />
<text transform="translate(344.75 154.82) scale(0.9500 1)" font-size="8.169" fill="#111" stroke="#111" stroke-width="0.2">200</text>
<line x1="360.6" y1="228.2" x2="363.6" y2="228.2" stroke="#2e2e2e" stroke-width="0.6" />
<text transform="translate(353.36 230.32) scale(0.9500 1)" font-size="8.169" fill="#111" stroke="#111" stroke-width="0.2">0</text>
<line x1="360.6" y1="198.6" x2="363.6" y2="198.6" stroke="#2e2e2e" stroke-width="0.6" />
<text transform="translate(344.75 200.72) scale(0.9500 1)" font-size="8.169" fill="#111" stroke="#111" stroke-width="0.2">100</text>
<line x1="360.6" y1="281.8" x2="363.6" y2="281.8" stroke="#2e2e2e" stroke-width="0.6" />
<text transform="translate(353.36 283.92) scale(0.9500 1)" font-size="8.169" fill="#111" stroke="#111" stroke-width="0.2">0</text>
<line x1="360.6" y1="254.9" x2="363.6" y2="254.9" stroke="#2e2e2e" stroke-width="0.6" />
<text transform="translate(349.06 257.02) scale(0.9500 1)" font-size="8.169" fill="#111" stroke="#111" stroke-width="0.2">60</text>
<line x1="628.2" y1="66.4" x2="625.2" y2="66.4" stroke="#2e2e2e" stroke-width="0.6" />
<text transform="translate(630.9 68.93) scale(1.0000 1)" font-size="7.465" fill="#111" stroke="#111" stroke-width="0.2">0</text>
<line x1="628.2" y1="31.3" x2="625.2" y2="31.3" stroke="#2e2e2e" stroke-width="0.6" />
<text transform="translate(630.83 33.83) scale(1.0000 1)" font-size="7.465" fill="#111" stroke="#111" stroke-width="0.2">20</text>
<line x1="628.2" y1="120.4" x2="625.2" y2="120.4" stroke="#2e2e2e" stroke-width="0.6" />
<text transform="translate(630.9 122.93) scale(1.0000 1)" font-size="7.465" fill="#111" stroke="#111" stroke-width="0.2">0</text>
<line x1="628.2" y1="99.3" x2="625.2" y2="99.3" stroke="#2e2e2e" stroke-width="0.6" />
<text transform="translate(630.64 101.83) scale(1.0000 1)" font-size="7.465" fill="#111" stroke="#111" stroke-width="0.2">10</text>
<line x1="628.2" y1="173.9" x2="625.2" y2="173.9" stroke="#2e2e2e" stroke-width="0.6" />
<text transform="translate(630.9 176.43) scale(1.0000 1)" font-size="7.465" fill="#111" stroke="#111" stroke-width="0.2">0</text>
<line x1="628.2" y1="156.5" x2="625.2" y2="156.5" stroke="#2e2e2e" stroke-width="0.6" />
<text transform="translate(630.9 159.03) scale(1.0000 1)" font-size="7.465" fill="#111" stroke="#111" stroke-width="0.2">5</text>
<line x1="628.2" y1="227.4" x2="625.2" y2="227.4" stroke="#2e2e2e" stroke-width="0.6" />
<text transform="translate(630.9 229.93) scale(1.0000 1)" font-size="7.465" fill="#111" stroke="#111" stroke-width="0.2">0</text>
<line x1="628.2" y1="201.4" x2="625.2" y2="201.4" stroke="#2e2e2e" stroke-width="0.6" />
<text transform="translate(631.05 203.93) scale(1.0000 1)" font-size="7.465" fill="#111" stroke="#111" stroke-width="0.2">4</text>
<line x1="628.2" y1="281" x2="625.2" y2="281" stroke="#2e2e2e" stroke-width="0.6" />
<text transform="translate(630.9 283.53) scale(1.0000 1)" font-size="7.465" fill="#111" stroke="#111" stroke-width="0.2">0</text>
<line x1="628.2" y1="246.2" x2="625.2" y2="246.2" stroke="#2e2e2e" stroke-width="0.6" />
<text transform="translate(631.05 248.73) scale(1.0000 1)" font-size="7.465" fill="#111" stroke="#111" stroke-width="0.2">4</text>
<text transform="translate(408.35 290.52) scale(0.9500 1)" font-size="8.169" fill="#111" stroke="#111" stroke-width="0.2">−0.5</text>
<text transform="translate(466.39 290.52) scale(0.9500 1)" font-size="8.169" fill="#111" stroke="#111" stroke-width="0.2">0.0</text>
<text transform="translate(522.16 290.52) scale(0.9500 1)" font-size="8.169" fill="#111" stroke="#111" stroke-width="0.2">0.5</text>
<text transform="translate(577.75 290.52) scale(0.9500 1)" font-size="8.169" fill="#111" stroke="#111" stroke-width="0.2">1.0</text>
<text transform="translate(487.96 304.37) scale(0.9528 1)" font-size="13.380" fill="#000" stroke="#000" stroke-width="0.12">CI</text>
<text transform="translate(340 171.63) rotate(-90) scale(0.8596 1)" font-size="15.000" fill="#000" stroke="#000" stroke-width="0.18">Numbers</text>
<text transform="translate(485.87 8.8) scale(1.1591 1)" font-size="12.000" fill="#000" stroke="#000" stroke-width="0.05">(b)</text>
<rect x="362.9" y="16.6" width="59.4" height="18.2" fill="#fff" stroke="#222" stroke-width="1.0"/>
<line x1="366.6" y1="20.9" x2="375" y2="20.9" stroke="#444" stroke-width="1.2" />
<rect x="365.5" y="27" width="10.8" height="3.4" fill="#fff" stroke="#333" stroke-width="1.0"/>
<text transform="translate(380.48 22.9) scale(1.1652 1)" font-size="5.500" fill="#111">CI=0.15±0.14</text>
<text transform="translate(380.42 30.5) scale(1.1652 1)" font-size="5.500" fill="#111">(g-r)/Constant</text>
<rect x="569.4" y="16.6" width="56.4" height="9.8" fill="#fff" stroke="#222" stroke-width="1.0"/>
<rect x="571.7" y="19" width="11.6" height="4.0" fill="#fff" stroke="#ff7070" stroke-width="1.3"/>
<rect x="571.7" y="19" width="11.6" height="4.0" fill="none" stroke="#f00" stroke-width="1.3" stroke-dasharray="1.2 1.3"/>
<text transform="translate(586.37 22.9) scale(1.1652 1)" font-size="5.500" fill="#111">(g-r)/Variable</text>
<rect x="362.9" y="70.2" width="61.1" height="18.2" fill="#fff" stroke="#222" stroke-width="1.0"/>
<line x1="366.6" y1="74.5" x2="375" y2="74.5" stroke="#444" stroke-width="1.2" />
<rect x="365.5" y="80.6" width="10.8" height="3.4" fill="#fff" stroke="#333" stroke-width="1.0"/>
<text transform="translate(380.48 76.5) scale(1.1652 1)" font-size="5.500" fill="#111">CI= 0.08±0.09</text>
<text transform="translate(380.42 84.1) scale(1.1652 1)" font-size="5.500" fill="#111">(r-i)/Constant</text>
<rect x="571.2" y="70.2" width="54.6" height="9.8" fill="#fff" stroke="#222" stroke-width="1.0"/>
<rect x="573.5" y="72.6" width="11.6" height="4.0" fill="#fff" stroke="#ff7070" stroke-width="1.3"/>
<rect x="573.5" y="72.6" width="11.6" height="4.0" fill="none" stroke="#f00" stroke-width="1.3" stroke-dasharray="1.2 1.3"/>
<text transform="translate(588.52 76.5) scale(1.1652 1)" font-size="5.500" fill="#111">(r-i)/Variable</text>
<rect x="362.9" y="123.9" width="60.8" height="18.2" fill="#fff" stroke="#222" stroke-width="1.0"/>
<line x1="366.6" y1="128.2" x2="375" y2="128.2" stroke="#444" stroke-width="1.2" />
<rect x="365.5" y="134.3" width="10.8" height="3.4" fill="#fff" stroke="#333" stroke-width="1.0"/>
<text transform="translate(380.48 130.2) scale(1.1652 1)" font-size="5.500" fill="#111">CI= 0.13±0.10</text>
<text transform="translate(380.42 137.8) scale(1.1652 1)" font-size="5.500" fill="#111">(i-z)/Constant</text>
<rect x="570.1" y="123.9" width="55.7" height="9.8" fill="#fff" stroke="#222" stroke-width="1.0"/>
<rect x="572.4" y="126.3" width="11.6" height="4.0" fill="#fff" stroke="#ff7070" stroke-width="1.3"/>
<rect x="572.4" y="126.3" width="11.6" height="4.0" fill="none" stroke="#f00" stroke-width="1.3" stroke-dasharray="1.2 1.3"/>
<text transform="translate(587.43 130.2) scale(1.1652 1)" font-size="5.500" fill="#111">(i-z)/Variable</text>
<rect x="362.9" y="177.5" width="61.2" height="18.2" fill="#fff" stroke="#222" stroke-width="1.0"/>
<line x1="366.6" y1="181.8" x2="375" y2="181.8" stroke="#444" stroke-width="1.2" />
<rect x="365.5" y="187.9" width="10.8" height="3.4" fill="#fff" stroke="#333" stroke-width="1.0"/>
<text transform="translate(380.48 183.8) scale(1.1652 1)" font-size="5.500" fill="#111">CI= 0.23±0.11</text>
<text transform="translate(380.42 191.4) scale(1.1652 1)" font-size="5.500" fill="#111">(J-H)/Constant</text>
<rect x="568.8" y="177.5" width="57" height="9.8" fill="#fff" stroke="#222" stroke-width="1.0"/>
<rect x="571.1" y="179.9" width="11.6" height="4.0" fill="#fff" stroke="#ff7070" stroke-width="1.3"/>
<rect x="571.1" y="179.9" width="11.6" height="4.0" fill="none" stroke="#f00" stroke-width="1.3" stroke-dasharray="1.2 1.3"/>
<text transform="translate(584.23 183.8) scale(1.1652 1)" font-size="5.500" fill="#111">(J-H)/Variable</text>
<rect x="362.9" y="231.2" width="63.4" height="18.2" fill="#fff" stroke="#222" stroke-width="1.0"/>
<line x1="366.6" y1="235.5" x2="375" y2="235.5" stroke="#444" stroke-width="1.2" />
<rect x="365.5" y="241.6" width="10.8" height="3.4" fill="#fff" stroke="#333" stroke-width="1.0"/>
<text transform="translate(380.48 237.5) scale(1.1652 1)" font-size="5.500" fill="#111">CI=0.25±0.17</text>
<text transform="translate(380.44 245.1) scale(1.1012 1)" font-size="5.500" fill="#111">(H-Ks)/Constant</text>
<rect x="564.2" y="231.2" width="61.6" height="9.8" fill="#fff" stroke="#222" stroke-width="1.0"/>
<rect x="566.5" y="233.6" width="11.6" height="4.0" fill="#fff" stroke="#ff7070" stroke-width="1.3"/>
<rect x="566.5" y="233.6" width="11.6" height="4.0" fill="none" stroke="#f00" stroke-width="1.3" stroke-dasharray="1.2 1.3"/>
<text transform="translate(581.53 237.5) scale(1.1229 1)" font-size="5.500" fill="#111">(H-Ks)/Variable</text>
</svg></body></html>
